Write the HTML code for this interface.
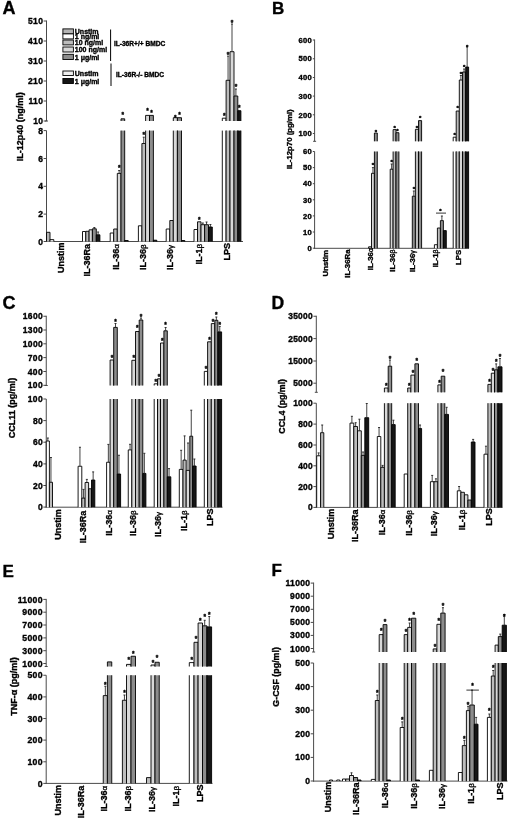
<!DOCTYPE html>
<html><head><meta charset="utf-8"><style>
html,body{margin:0;padding:0;background:#fff;}
svg{display:block;will-change:transform;}
text{font-family:"Liberation Sans",sans-serif;fill:#000;stroke:#000;stroke-width:0.35px;}
</style></head><body>
<svg width="520" height="820" viewBox="0 0 520 820">
<rect x="0" y="0" width="520" height="820" fill="#fff"/>
<text x="2.5" y="14.3" font-size="18" text-anchor="start" font-weight="bold">A</text>
<text x="22.8" y="126.8" font-size="9" text-anchor="middle" font-weight="bold" transform="rotate(-90 22.8 126.8)">IL-12p40 (ng/ml)</text>
<line x1="46.5" y1="20.5" x2="46.5" y2="121" stroke="#4a4a4a" stroke-width="1"/>
<line x1="43.6" y1="21" x2="46.5" y2="21" stroke="#4a4a4a" stroke-width="1"/>
<text x="43.2" y="24.06" font-size="8.5" text-anchor="end" font-weight="bold" letter-spacing="0.3">510</text>
<line x1="43.6" y1="41" x2="46.5" y2="41" stroke="#4a4a4a" stroke-width="1"/>
<text x="43.2" y="44.06" font-size="8.5" text-anchor="end" font-weight="bold" letter-spacing="0.3">410</text>
<line x1="43.6" y1="61" x2="46.5" y2="61" stroke="#4a4a4a" stroke-width="1"/>
<text x="43.2" y="64.06" font-size="8.5" text-anchor="end" font-weight="bold" letter-spacing="0.3">310</text>
<line x1="43.6" y1="81" x2="46.5" y2="81" stroke="#4a4a4a" stroke-width="1"/>
<text x="43.2" y="84.06" font-size="8.5" text-anchor="end" font-weight="bold" letter-spacing="0.3">210</text>
<line x1="43.6" y1="101" x2="46.5" y2="101" stroke="#4a4a4a" stroke-width="1"/>
<text x="43.2" y="104.06" font-size="8.5" text-anchor="end" font-weight="bold" letter-spacing="0.3">110</text>
<line x1="43.6" y1="121" x2="46.5" y2="121" stroke="#4a4a4a" stroke-width="1"/>
<text x="43.2" y="124.06" font-size="8.5" text-anchor="end" font-weight="bold" letter-spacing="0.3">10</text>
<line x1="45" y1="121" x2="48" y2="121" stroke="#4a4a4a" stroke-width="1"/>
<line x1="46.5" y1="130.6" x2="46.5" y2="242" stroke="#4a4a4a" stroke-width="1"/>
<line x1="43.6" y1="130.6" x2="46.5" y2="130.6" stroke="#4a4a4a" stroke-width="1"/>
<text x="43.2" y="133.66" font-size="8.5" text-anchor="end" font-weight="bold" letter-spacing="0.3">8</text>
<line x1="43.6" y1="158.5" x2="46.5" y2="158.5" stroke="#4a4a4a" stroke-width="1"/>
<text x="43.2" y="161.56" font-size="8.5" text-anchor="end" font-weight="bold" letter-spacing="0.3">6</text>
<line x1="43.6" y1="186.3" x2="46.5" y2="186.3" stroke="#4a4a4a" stroke-width="1"/>
<text x="43.2" y="189.36" font-size="8.5" text-anchor="end" font-weight="bold" letter-spacing="0.3">4</text>
<line x1="43.6" y1="214.1" x2="46.5" y2="214.1" stroke="#4a4a4a" stroke-width="1"/>
<text x="43.2" y="217.16" font-size="8.5" text-anchor="end" font-weight="bold" letter-spacing="0.3">2</text>
<line x1="43.6" y1="241.5" x2="46.5" y2="241.5" stroke="#4a4a4a" stroke-width="1"/>
<text x="43.2" y="244.56" font-size="8.5" text-anchor="end" font-weight="bold" letter-spacing="0.3">0</text>
<line x1="46" y1="241.5" x2="243" y2="241.5" stroke="#4a4a4a" stroke-width="1"/>
<rect x="46.5" y="232.3" width="3.5" height="9.2" fill="#b4b4b4"/>
<path d="M46.5 241.5V232.3H50V241.5" fill="none" stroke="#000" stroke-width="0.9"/>
<rect x="50" y="239.6" width="3.8" height="1.9" fill="#efefef"/>
<path d="M50 241.5V239.6H53.8V241.5" fill="none" stroke="#000" stroke-width="0.9"/>
<rect x="82.5" y="231.5" width="3.3" height="10" fill="#ffffff"/>
<path d="M82.5 241.5V231.5H85.8V241.5" fill="none" stroke="#000" stroke-width="0.9"/>
<rect x="85.8" y="231.3" width="3.3" height="10.2" fill="#bcbcbc"/>
<path d="M85.8 241.5V231.3H89.1V241.5" fill="none" stroke="#000" stroke-width="0.9"/>
<rect x="89.1" y="229.8" width="3.3" height="11.7" fill="#d8d8d8"/>
<path d="M89.1 241.5V229.8H92.4V241.5" fill="none" stroke="#000" stroke-width="0.9"/>
<rect x="92.4" y="228.8" width="3.9" height="12.7" fill="#8c8c8c"/>
<path d="M92.4 241.5V228.8H96.3V241.5" fill="none" stroke="#000" stroke-width="0.9"/>
<line x1="94.35" y1="227.5" x2="94.35" y2="228.8" stroke="#222" stroke-width="0.85"/>
<line x1="93.35" y1="227.5" x2="95.35" y2="227.5" stroke="#222" stroke-width="0.9"/>
<rect x="96.3" y="234.8" width="3.6" height="6.7" fill="#161616"/>
<path d="M96.3 241.5V234.8H99.9V241.5" fill="none" stroke="#000" stroke-width="0.9"/>
<line x1="98.1" y1="232" x2="98.1" y2="234.8" stroke="#222" stroke-width="0.85"/>
<line x1="97.1" y1="232" x2="99.1" y2="232" stroke="#222" stroke-width="0.9"/>
<rect x="110.2" y="233" width="3.5" height="8.5" fill="#ffffff"/>
<path d="M110.2 241.5V233H113.7V241.5" fill="none" stroke="#000" stroke-width="0.9"/>
<rect x="113.7" y="229" width="3.6" height="12.5" fill="#bcbcbc"/>
<path d="M113.7 241.5V229H117.3V241.5" fill="none" stroke="#000" stroke-width="0.9"/>
<rect x="117.3" y="173.4" width="3.7" height="68.1" fill="#d8d8d8"/>
<path d="M117.3 241.5V173.4H121V241.5" fill="none" stroke="#000" stroke-width="0.9"/>
<line x1="119.15" y1="170.5" x2="119.15" y2="173.4" stroke="#222" stroke-width="0.85"/>
<line x1="118.15" y1="170.5" x2="120.15" y2="170.5" stroke="#222" stroke-width="0.9"/>
<text x="119.15" y="170.07" font-size="6.5" text-anchor="middle" font-weight="bold">*</text>
<rect x="121" y="130.6" width="3.7" height="110.9" fill="#8c8c8c"/>
<path d="M121 241.5V130.6M124.7 130.6V241.5" fill="none" stroke="#000" stroke-width="0.9"/>
<rect x="121" y="118.8" width="3.7" height="2.2" fill="#8c8c8c"/>
<path d="M121 121V118.8H124.7V121" fill="none" stroke="#000" stroke-width="0.9"/>
<text x="122.85" y="116.58" font-size="6.5" text-anchor="middle" font-weight="bold">*</text>
<rect x="124.7" y="240.5" width="3.5" height="1" fill="#161616"/>
<path d="M124.7 241.5V240.5H128.2V241.5" fill="none" stroke="#000" stroke-width="0.9"/>
<rect x="138.4" y="225.8" width="3.5" height="15.7" fill="#ffffff"/>
<path d="M138.4 241.5V225.8H141.9V241.5" fill="none" stroke="#000" stroke-width="0.9"/>
<rect x="141.9" y="143.5" width="3.7" height="98" fill="#bcbcbc"/>
<path d="M141.9 241.5V143.5H145.6V241.5" fill="none" stroke="#000" stroke-width="0.9"/>
<line x1="143.75" y1="137.2" x2="143.75" y2="143.5" stroke="#222" stroke-width="0.85"/>
<line x1="142.75" y1="137.2" x2="144.75" y2="137.2" stroke="#222" stroke-width="0.9"/>
<text x="143.75" y="137.07" font-size="6.5" text-anchor="middle" font-weight="bold">*</text>
<rect x="145.6" y="130.6" width="3.9" height="110.9" fill="#d8d8d8"/>
<path d="M145.6 241.5V130.6M149.5 130.6V241.5" fill="none" stroke="#000" stroke-width="0.9"/>
<rect x="145.6" y="115.4" width="3.9" height="5.6" fill="#d8d8d8"/>
<path d="M145.6 121V115.4H149.5V121" fill="none" stroke="#000" stroke-width="0.9"/>
<text x="147.55" y="113.08" font-size="6.5" text-anchor="middle" font-weight="bold">*</text>
<rect x="149.5" y="130.6" width="3.9" height="110.9" fill="#8c8c8c"/>
<path d="M149.5 241.5V130.6M153.4 130.6V241.5" fill="none" stroke="#000" stroke-width="0.9"/>
<rect x="149.5" y="115.4" width="3.9" height="5.6" fill="#8c8c8c"/>
<path d="M149.5 121V115.4H153.4V121" fill="none" stroke="#000" stroke-width="0.9"/>
<text x="151.45" y="114.58" font-size="6.5" text-anchor="middle" font-weight="bold">*</text>
<rect x="153.4" y="240.2" width="3.4" height="1.3" fill="#161616"/>
<path d="M153.4 241.5V240.2H156.8V241.5" fill="none" stroke="#000" stroke-width="0.9"/>
<rect x="166.2" y="229" width="3.6" height="12.5" fill="#ffffff"/>
<path d="M166.2 241.5V229H169.8V241.5" fill="none" stroke="#000" stroke-width="0.9"/>
<rect x="169.8" y="220.5" width="3.5" height="21" fill="#bcbcbc"/>
<path d="M169.8 241.5V220.5H173.3V241.5" fill="none" stroke="#000" stroke-width="0.9"/>
<rect x="173.3" y="130.6" width="4.1" height="110.9" fill="#d8d8d8"/>
<path d="M173.3 241.5V130.6M177.4 130.6V241.5" fill="none" stroke="#000" stroke-width="0.9"/>
<rect x="173.3" y="117.7" width="4.1" height="3.3" fill="#d8d8d8"/>
<path d="M173.3 121V117.7H177.4V121" fill="none" stroke="#000" stroke-width="0.9"/>
<text x="175.35" y="119.58" font-size="6.5" text-anchor="middle" font-weight="bold">*</text>
<rect x="177.4" y="130.6" width="4.1" height="110.9" fill="#8c8c8c"/>
<path d="M177.4 241.5V130.6M181.5 130.6V241.5" fill="none" stroke="#000" stroke-width="0.9"/>
<rect x="177.4" y="117.7" width="4.1" height="3.3" fill="#8c8c8c"/>
<path d="M177.4 121V117.7H181.5V121" fill="none" stroke="#000" stroke-width="0.9"/>
<text x="179.45" y="116.58" font-size="6.5" text-anchor="middle" font-weight="bold">*</text>
<rect x="181.5" y="240.5" width="3.3" height="1" fill="#161616"/>
<path d="M181.5 241.5V240.5H184.8V241.5" fill="none" stroke="#000" stroke-width="0.9"/>
<rect x="194" y="229.5" width="3.5" height="12" fill="#ffffff"/>
<path d="M194 241.5V229.5H197.5V241.5" fill="none" stroke="#000" stroke-width="0.9"/>
<rect x="197.5" y="221.8" width="3.5" height="19.7" fill="#bcbcbc"/>
<path d="M197.5 241.5V221.8H201V241.5" fill="none" stroke="#000" stroke-width="0.9"/>
<text x="199.25" y="221.57" font-size="6.5" text-anchor="middle" font-weight="bold">*</text>
<rect x="201" y="224.7" width="3.6" height="16.8" fill="#d8d8d8"/>
<path d="M201 241.5V224.7H204.6V241.5" fill="none" stroke="#000" stroke-width="0.9"/>
<line x1="202.8" y1="223" x2="202.8" y2="224.7" stroke="#222" stroke-width="0.85"/>
<line x1="201.8" y1="223" x2="203.8" y2="223" stroke="#222" stroke-width="0.9"/>
<rect x="204.6" y="224.7" width="3.9" height="16.8" fill="#8c8c8c"/>
<path d="M204.6 241.5V224.7H208.5V241.5" fill="none" stroke="#000" stroke-width="0.9"/>
<line x1="206.55" y1="222" x2="206.55" y2="224.7" stroke="#222" stroke-width="0.85"/>
<line x1="205.55" y1="222" x2="207.55" y2="222" stroke="#222" stroke-width="0.9"/>
<rect x="208.5" y="227" width="3.8" height="14.5" fill="#161616"/>
<path d="M208.5 241.5V227H212.3V241.5" fill="none" stroke="#000" stroke-width="0.9"/>
<line x1="210.4" y1="224.5" x2="210.4" y2="227" stroke="#222" stroke-width="0.85"/>
<line x1="209.4" y1="224.5" x2="211.4" y2="224.5" stroke="#222" stroke-width="0.9"/>
<rect x="222.3" y="130.6" width="3.8" height="110.9" fill="#ffffff"/>
<path d="M222.3 241.5V130.6M226.1 130.6V241.5" fill="none" stroke="#000" stroke-width="0.9"/>
<rect x="222.3" y="118.2" width="3.8" height="2.8" fill="#ffffff"/>
<path d="M222.3 121V118.2H226.1V121" fill="none" stroke="#000" stroke-width="0.9"/>
<text x="224.2" y="118.28" font-size="6.5" text-anchor="middle" font-weight="bold">*</text>
<rect x="226.1" y="130.6" width="3.9" height="110.9" fill="#bcbcbc"/>
<path d="M226.1 241.5V130.6M230 130.6V241.5" fill="none" stroke="#000" stroke-width="0.9"/>
<rect x="226.1" y="80.3" width="3.9" height="40.7" fill="#bcbcbc"/>
<path d="M226.1 121V80.3H230V121" fill="none" stroke="#000" stroke-width="0.9"/>
<line x1="228.05" y1="56.1" x2="228.05" y2="80.3" stroke="#222" stroke-width="0.85"/>
<line x1="227.05" y1="56.1" x2="229.05" y2="56.1" stroke="#222" stroke-width="0.9"/>
<text x="228.05" y="57.18" font-size="6.5" text-anchor="middle" font-weight="bold">*</text>
<rect x="230" y="130.6" width="4" height="110.9" fill="#d8d8d8"/>
<path d="M230 241.5V130.6M234 130.6V241.5" fill="none" stroke="#000" stroke-width="0.9"/>
<rect x="230" y="51.7" width="4" height="69.3" fill="#d8d8d8"/>
<path d="M230 121V51.7H234V121" fill="none" stroke="#000" stroke-width="0.9"/>
<line x1="232" y1="24" x2="232" y2="51.7" stroke="#222" stroke-width="0.85"/>
<line x1="231" y1="24" x2="233" y2="24" stroke="#222" stroke-width="0.9"/>
<text x="232" y="24.57" font-size="6.5" text-anchor="middle" font-weight="bold">*</text>
<rect x="234" y="130.6" width="3.8" height="110.9" fill="#8c8c8c"/>
<path d="M234 241.5V130.6M237.8 130.6V241.5" fill="none" stroke="#000" stroke-width="0.9"/>
<rect x="234" y="96" width="3.8" height="25" fill="#8c8c8c"/>
<path d="M234 121V96H237.8V121" fill="none" stroke="#000" stroke-width="0.9"/>
<line x1="235.9" y1="89" x2="235.9" y2="96" stroke="#222" stroke-width="0.85"/>
<line x1="234.9" y1="89" x2="236.9" y2="89" stroke="#222" stroke-width="0.9"/>
<text x="235.9" y="89.38" font-size="6.5" text-anchor="middle" font-weight="bold">*</text>
<rect x="237.8" y="130.6" width="3.1" height="110.9" fill="#161616"/>
<path d="M237.8 241.5V130.6M240.9 130.6V241.5" fill="none" stroke="#000" stroke-width="0.9"/>
<rect x="237.8" y="110.7" width="3.1" height="10.3" fill="#161616"/>
<path d="M237.8 121V110.7H240.9V121" fill="none" stroke="#000" stroke-width="0.9"/>
<text x="239.35" y="110.17" font-size="6.5" text-anchor="middle" font-weight="bold">*</text>
<text x="63.8" y="242.6" font-size="9" text-anchor="end" font-weight="bold" transform="rotate(-90 63.8 242.6)">Unstim</text>
<text x="89.8" y="244" font-size="9" text-anchor="end" font-weight="bold" transform="rotate(-90 89.8 244)">IL-36Ra</text>
<text x="119.4" y="244.1" font-size="9" text-anchor="end" font-weight="bold" transform="rotate(-90 119.4 244.1)">IL-36<tspan font-weight="normal" font-size="8.1">α</tspan></text>
<text x="145.9" y="244.4" font-size="9" text-anchor="end" font-weight="bold" transform="rotate(-90 145.9 244.4)">IL-36<tspan font-weight="normal" font-size="8.1">β</tspan></text>
<text x="172.8" y="245" font-size="9" text-anchor="end" font-weight="bold" transform="rotate(-90 172.8 245)">IL-36<tspan font-weight="normal" font-size="8.1">γ</tspan></text>
<text x="202.5" y="243.8" font-size="9" text-anchor="end" font-weight="bold" transform="rotate(-90 202.5 243.8)">IL-1<tspan font-weight="normal" font-size="8.1">β</tspan></text>
<text x="230.3" y="243" font-size="9" text-anchor="end" font-weight="bold" transform="rotate(-90 230.3 243)">LPS</text>
<text x="272" y="14" font-size="17" text-anchor="start" font-weight="bold">B</text>
<text x="292.1" y="139.2" font-size="7.8" text-anchor="middle" font-weight="bold" transform="rotate(-90 292.1 139.2)">IL-12p70 (pg/ml)</text>
<line x1="314.6" y1="39.5" x2="314.6" y2="141.3" stroke="#4a4a4a" stroke-width="1"/>
<line x1="312.8" y1="40" x2="314.6" y2="40" stroke="#4a4a4a" stroke-width="1"/>
<text x="312" y="42.74" font-size="7.6" text-anchor="end" font-weight="bold" letter-spacing="0.3">600</text>
<line x1="312.8" y1="58.75" x2="314.6" y2="58.75" stroke="#4a4a4a" stroke-width="1"/>
<text x="312" y="61.49" font-size="7.6" text-anchor="end" font-weight="bold" letter-spacing="0.3">500</text>
<line x1="312.8" y1="77.5" x2="314.6" y2="77.5" stroke="#4a4a4a" stroke-width="1"/>
<text x="312" y="80.24" font-size="7.6" text-anchor="end" font-weight="bold" letter-spacing="0.3">400</text>
<line x1="312.8" y1="96.1" x2="314.6" y2="96.1" stroke="#4a4a4a" stroke-width="1"/>
<text x="312" y="98.84" font-size="7.6" text-anchor="end" font-weight="bold" letter-spacing="0.3">300</text>
<line x1="312.8" y1="114.8" x2="314.6" y2="114.8" stroke="#4a4a4a" stroke-width="1"/>
<text x="312" y="117.54" font-size="7.6" text-anchor="end" font-weight="bold" letter-spacing="0.3">200</text>
<line x1="312.8" y1="133.5" x2="314.6" y2="133.5" stroke="#4a4a4a" stroke-width="1"/>
<text x="312" y="136.24" font-size="7.6" text-anchor="end" font-weight="bold" letter-spacing="0.3">100</text>
<line x1="313.1" y1="141.3" x2="316.1" y2="141.3" stroke="#4a4a4a" stroke-width="1"/>
<line x1="314.6" y1="151.5" x2="314.6" y2="248.8" stroke="#4a4a4a" stroke-width="1"/>
<line x1="312.8" y1="151.5" x2="314.6" y2="151.5" stroke="#4a4a4a" stroke-width="1"/>
<text x="312" y="154.24" font-size="7.6" text-anchor="end" font-weight="bold" letter-spacing="0.3">60</text>
<line x1="312.8" y1="167.6" x2="314.6" y2="167.6" stroke="#4a4a4a" stroke-width="1"/>
<text x="312" y="170.34" font-size="7.6" text-anchor="end" font-weight="bold" letter-spacing="0.3">50</text>
<line x1="312.8" y1="183.7" x2="314.6" y2="183.7" stroke="#4a4a4a" stroke-width="1"/>
<text x="312" y="186.44" font-size="7.6" text-anchor="end" font-weight="bold" letter-spacing="0.3">40</text>
<line x1="312.8" y1="199.8" x2="314.6" y2="199.8" stroke="#4a4a4a" stroke-width="1"/>
<text x="312" y="202.54" font-size="7.6" text-anchor="end" font-weight="bold" letter-spacing="0.3">30</text>
<line x1="312.8" y1="215.9" x2="314.6" y2="215.9" stroke="#4a4a4a" stroke-width="1"/>
<text x="312" y="218.64" font-size="7.6" text-anchor="end" font-weight="bold" letter-spacing="0.3">20</text>
<line x1="312.8" y1="232" x2="314.6" y2="232" stroke="#4a4a4a" stroke-width="1"/>
<text x="312" y="234.74" font-size="7.6" text-anchor="end" font-weight="bold" letter-spacing="0.3">10</text>
<line x1="312.8" y1="248.2" x2="314.6" y2="248.2" stroke="#4a4a4a" stroke-width="1"/>
<text x="312" y="250.94" font-size="7.6" text-anchor="end" font-weight="bold" letter-spacing="0.3">0</text>
<line x1="314.1" y1="248.3" x2="469" y2="248.3" stroke="#4a4a4a" stroke-width="1"/>
<rect x="368.6" y="246.8" width="2.9" height="1.5" fill="#bcbcbc"/>
<path d="M368.6 248.3V246.8H371.5V248.3" fill="none" stroke="#000" stroke-width="0.9"/>
<rect x="371.5" y="173.3" width="2.9" height="75" fill="#d8d8d8"/>
<path d="M371.5 248.3V173.3H374.4V248.3" fill="none" stroke="#000" stroke-width="0.9"/>
<line x1="372.95" y1="167.6" x2="372.95" y2="173.3" stroke="#222" stroke-width="0.85"/>
<line x1="371.95" y1="167.6" x2="373.95" y2="167.6" stroke="#222" stroke-width="0.9"/>
<text x="372.95" y="167.3" font-size="6" text-anchor="middle" font-weight="bold">*</text>
<rect x="374.4" y="151.5" width="2.9" height="96.8" fill="#8c8c8c"/>
<path d="M374.4 248.3V151.5M377.3 151.5V248.3" fill="none" stroke="#000" stroke-width="0.9"/>
<rect x="374.4" y="133" width="2.9" height="8.3" fill="#8c8c8c"/>
<path d="M374.4 141.3V133H377.3V141.3" fill="none" stroke="#000" stroke-width="0.9"/>
<text x="375.85" y="133.8" font-size="6" text-anchor="middle" font-weight="bold">*</text>
<rect x="390.2" y="169.2" width="2.9" height="79.1" fill="#d8d8d8"/>
<path d="M390.2 248.3V169.2H393.1V248.3" fill="none" stroke="#000" stroke-width="0.9"/>
<line x1="391.65" y1="164" x2="391.65" y2="169.2" stroke="#222" stroke-width="0.85"/>
<line x1="390.65" y1="164" x2="392.65" y2="164" stroke="#222" stroke-width="0.9"/>
<text x="391.65" y="163.8" font-size="6" text-anchor="middle" font-weight="bold">*</text>
<rect x="393.1" y="151.5" width="2.9" height="96.8" fill="#bcbcbc"/>
<path d="M393.1 248.3V151.5M396 151.5V248.3" fill="none" stroke="#000" stroke-width="0.9"/>
<rect x="393.1" y="129.6" width="2.9" height="11.7" fill="#bcbcbc"/>
<path d="M393.1 141.3V129.6H396V141.3" fill="none" stroke="#000" stroke-width="0.9"/>
<text x="394.55" y="129.8" font-size="6" text-anchor="middle" font-weight="bold">*</text>
<rect x="396" y="151.5" width="2.9" height="96.8" fill="#8c8c8c"/>
<path d="M396 248.3V151.5M398.9 151.5V248.3" fill="none" stroke="#000" stroke-width="0.9"/>
<rect x="396" y="132.7" width="2.9" height="8.6" fill="#8c8c8c"/>
<path d="M396 141.3V132.7H398.9V141.3" fill="none" stroke="#000" stroke-width="0.9"/>
<text x="397.45" y="133.3" font-size="6" text-anchor="middle" font-weight="bold">*</text>
<rect x="412.3" y="196.2" width="3.1" height="52.1" fill="#8c8c8c"/>
<path d="M412.3 248.3V196.2H415.4V248.3" fill="none" stroke="#000" stroke-width="0.9"/>
<line x1="413.85" y1="191" x2="413.85" y2="196.2" stroke="#222" stroke-width="0.85"/>
<line x1="412.85" y1="191" x2="414.85" y2="191" stroke="#222" stroke-width="0.9"/>
<text x="413.85" y="191.3" font-size="6" text-anchor="middle" font-weight="bold">*</text>
<rect x="415.4" y="151.5" width="3.1" height="96.8" fill="#bcbcbc"/>
<path d="M415.4 248.3V151.5M418.5 151.5V248.3" fill="none" stroke="#000" stroke-width="0.9"/>
<rect x="415.4" y="129.3" width="3.1" height="12" fill="#bcbcbc"/>
<path d="M415.4 141.3V129.3H418.5V141.3" fill="none" stroke="#000" stroke-width="0.9"/>
<text x="416.95" y="129.8" font-size="6" text-anchor="middle" font-weight="bold">*</text>
<rect x="418.5" y="151.5" width="3.1" height="96.8" fill="#8c8c8c"/>
<path d="M418.5 248.3V151.5M421.6 151.5V248.3" fill="none" stroke="#000" stroke-width="0.9"/>
<rect x="418.5" y="120.6" width="3.1" height="20.7" fill="#8c8c8c"/>
<path d="M418.5 141.3V120.6H421.6V141.3" fill="none" stroke="#000" stroke-width="0.9"/>
<text x="420.05" y="119.9" font-size="6" text-anchor="middle" font-weight="bold">*</text>
<rect x="434.4" y="244.7" width="3" height="3.6" fill="#ffffff"/>
<path d="M434.4 248.3V244.7H437.4V248.3" fill="none" stroke="#000" stroke-width="0.9"/>
<rect x="437.4" y="228" width="3" height="20.3" fill="#bcbcbc"/>
<path d="M437.4 248.3V228H440.4V248.3" fill="none" stroke="#000" stroke-width="0.9"/>
<rect x="440.4" y="220.6" width="3" height="27.7" fill="#8c8c8c"/>
<path d="M440.4 248.3V220.6H443.4V248.3" fill="none" stroke="#000" stroke-width="0.9"/>
<line x1="441.9" y1="216" x2="441.9" y2="220.6" stroke="#222" stroke-width="0.85"/>
<line x1="440.9" y1="216" x2="442.9" y2="216" stroke="#222" stroke-width="0.9"/>
<rect x="443.4" y="230.6" width="2.9" height="17.7" fill="#161616"/>
<path d="M443.4 248.3V230.6H446.3V248.3" fill="none" stroke="#000" stroke-width="0.9"/>
<rect x="453.2" y="151.5" width="3" height="96.8" fill="#ffffff"/>
<path d="M453.2 248.3V151.5M456.2 151.5V248.3" fill="none" stroke="#000" stroke-width="0.9"/>
<rect x="453.2" y="137.2" width="3" height="4.1" fill="#ffffff"/>
<path d="M453.2 141.3V137.2H456.2V141.3" fill="none" stroke="#000" stroke-width="0.9"/>
<text x="454.7" y="137.3" font-size="6" text-anchor="middle" font-weight="bold">*</text>
<rect x="456.2" y="151.5" width="3.1" height="96.8" fill="#bcbcbc"/>
<path d="M456.2 248.3V151.5M459.3 151.5V248.3" fill="none" stroke="#000" stroke-width="0.9"/>
<rect x="456.2" y="111" width="3.1" height="30.3" fill="#bcbcbc"/>
<path d="M456.2 141.3V111H459.3V141.3" fill="none" stroke="#000" stroke-width="0.9"/>
<text x="457.75" y="109.8" font-size="6" text-anchor="middle" font-weight="bold">*</text>
<rect x="459.3" y="151.5" width="3.2" height="96.8" fill="#d8d8d8"/>
<path d="M459.3 248.3V151.5M462.5 151.5V248.3" fill="none" stroke="#000" stroke-width="0.9"/>
<rect x="459.3" y="80" width="3.2" height="61.3" fill="#d8d8d8"/>
<path d="M459.3 141.3V80H462.5V141.3" fill="none" stroke="#000" stroke-width="0.9"/>
<line x1="460.9" y1="75.5" x2="460.9" y2="80" stroke="#222" stroke-width="0.85"/>
<line x1="459.9" y1="75.5" x2="461.9" y2="75.5" stroke="#222" stroke-width="0.9"/>
<text x="460.9" y="75.8" font-size="6" text-anchor="middle" font-weight="bold">*</text>
<rect x="462.5" y="151.5" width="3.2" height="96.8" fill="#8c8c8c"/>
<path d="M462.5 248.3V151.5M465.7 151.5V248.3" fill="none" stroke="#000" stroke-width="0.9"/>
<rect x="462.5" y="72" width="3.2" height="69.3" fill="#8c8c8c"/>
<path d="M462.5 141.3V72H465.7V141.3" fill="none" stroke="#000" stroke-width="0.9"/>
<line x1="464.1" y1="69" x2="464.1" y2="72" stroke="#222" stroke-width="0.85"/>
<line x1="463.1" y1="69" x2="465.1" y2="69" stroke="#222" stroke-width="0.9"/>
<text x="464.1" y="69.3" font-size="6" text-anchor="middle" font-weight="bold">*</text>
<rect x="465.7" y="151.5" width="2.9" height="96.8" fill="#161616"/>
<path d="M465.7 248.3V151.5M468.6 151.5V248.3" fill="none" stroke="#000" stroke-width="0.9"/>
<rect x="465.7" y="67" width="2.9" height="74.3" fill="#161616"/>
<path d="M465.7 141.3V67H468.6V141.3" fill="none" stroke="#000" stroke-width="0.9"/>
<line x1="467.15" y1="47" x2="467.15" y2="67" stroke="#222" stroke-width="0.85"/>
<line x1="466.15" y1="47" x2="468.15" y2="47" stroke="#222" stroke-width="0.9"/>
<text x="467.15" y="48.8" font-size="6" text-anchor="middle" font-weight="bold">*</text>
<line x1="436" y1="213.1" x2="446" y2="213.1" stroke="#000" stroke-width="0.8"/>
<text x="440.5" y="212.7" font-size="6" text-anchor="middle" font-weight="bold">*</text>
<text x="328" y="250" font-size="7.8" text-anchor="end" font-weight="bold" transform="rotate(-90 328 250)">Unstim</text>
<text x="350.4" y="249.5" font-size="7.8" text-anchor="end" font-weight="bold" transform="rotate(-90 350.4 249.5)">IL-36Ra</text>
<text x="372.5" y="248" font-size="7.8" text-anchor="end" font-weight="bold" transform="rotate(-90 372.5 248)">IL-36<tspan font-weight="normal" font-size="7.02">α</tspan></text>
<text x="395.1" y="249.4" font-size="7.8" text-anchor="end" font-weight="bold" transform="rotate(-90 395.1 249.4)">IL-36<tspan font-weight="normal" font-size="7.02">β</tspan></text>
<text x="414.9" y="250.2" font-size="7.8" text-anchor="end" font-weight="bold" transform="rotate(-90 414.9 250.2)">IL-36<tspan font-weight="normal" font-size="7.02">γ</tspan></text>
<text x="438.5" y="249.4" font-size="7.8" text-anchor="end" font-weight="bold" transform="rotate(-90 438.5 249.4)">IL-1<tspan font-weight="normal" font-size="7.02">β</tspan></text>
<text x="460.8" y="249.8" font-size="7.8" text-anchor="end" font-weight="bold" transform="rotate(-90 460.8 249.8)">LPS</text>
<text x="2.5" y="309.3" font-size="18" text-anchor="start" font-weight="bold">C</text>
<text x="14.8" y="408" font-size="9" text-anchor="middle" font-weight="bold" transform="rotate(-90 14.8 408)">CCL11 (pg/ml)</text>
<line x1="46.25" y1="315.75" x2="46.25" y2="385.5" stroke="#4a4a4a" stroke-width="1"/>
<line x1="43.35" y1="316.25" x2="46.25" y2="316.25" stroke="#4a4a4a" stroke-width="1"/>
<text x="42.95" y="319.31" font-size="8.5" text-anchor="end" font-weight="bold" letter-spacing="0.3">1600</text>
<line x1="43.35" y1="330" x2="46.25" y2="330" stroke="#4a4a4a" stroke-width="1"/>
<text x="42.95" y="333.06" font-size="8.5" text-anchor="end" font-weight="bold" letter-spacing="0.3">1300</text>
<line x1="43.35" y1="343.8" x2="46.25" y2="343.8" stroke="#4a4a4a" stroke-width="1"/>
<text x="42.95" y="346.86" font-size="8.5" text-anchor="end" font-weight="bold" letter-spacing="0.3">1000</text>
<line x1="43.35" y1="357.6" x2="46.25" y2="357.6" stroke="#4a4a4a" stroke-width="1"/>
<text x="42.95" y="360.66" font-size="8.5" text-anchor="end" font-weight="bold" letter-spacing="0.3">700</text>
<line x1="43.35" y1="371.5" x2="46.25" y2="371.5" stroke="#4a4a4a" stroke-width="1"/>
<text x="42.95" y="374.56" font-size="8.5" text-anchor="end" font-weight="bold" letter-spacing="0.3">400</text>
<line x1="43.35" y1="385.3" x2="46.25" y2="385.3" stroke="#4a4a4a" stroke-width="1"/>
<text x="42.95" y="388.36" font-size="8.5" text-anchor="end" font-weight="bold" letter-spacing="0.3">100</text>
<line x1="44.75" y1="385.5" x2="47.75" y2="385.5" stroke="#4a4a4a" stroke-width="1"/>
<line x1="46.25" y1="399" x2="46.25" y2="507.7" stroke="#4a4a4a" stroke-width="1"/>
<line x1="43.35" y1="399" x2="46.25" y2="399" stroke="#4a4a4a" stroke-width="1"/>
<text x="42.95" y="402.06" font-size="8.5" text-anchor="end" font-weight="bold" letter-spacing="0.3">100</text>
<line x1="43.35" y1="420.6" x2="46.25" y2="420.6" stroke="#4a4a4a" stroke-width="1"/>
<text x="42.95" y="423.66" font-size="8.5" text-anchor="end" font-weight="bold" letter-spacing="0.3">80</text>
<line x1="43.35" y1="442.2" x2="46.25" y2="442.2" stroke="#4a4a4a" stroke-width="1"/>
<text x="42.95" y="445.26" font-size="8.5" text-anchor="end" font-weight="bold" letter-spacing="0.3">60</text>
<line x1="43.35" y1="463.9" x2="46.25" y2="463.9" stroke="#4a4a4a" stroke-width="1"/>
<text x="42.95" y="466.96" font-size="8.5" text-anchor="end" font-weight="bold" letter-spacing="0.3">40</text>
<line x1="43.35" y1="485.5" x2="46.25" y2="485.5" stroke="#4a4a4a" stroke-width="1"/>
<text x="42.95" y="488.56" font-size="8.5" text-anchor="end" font-weight="bold" letter-spacing="0.3">20</text>
<line x1="43.35" y1="507.1" x2="46.25" y2="507.1" stroke="#4a4a4a" stroke-width="1"/>
<text x="42.95" y="510.16" font-size="8.5" text-anchor="end" font-weight="bold" letter-spacing="0.3">0</text>
<line x1="45.75" y1="507.2" x2="222.5" y2="507.2" stroke="#4a4a4a" stroke-width="1"/>
<rect x="46.25" y="441" width="3.15" height="66.2" fill="#ffffff"/>
<path d="M46.25 507.2V441H49.4V507.2" fill="none" stroke="#000" stroke-width="0.9"/>
<line x1="47.83" y1="438" x2="47.83" y2="441" stroke="#222" stroke-width="0.85"/>
<line x1="46.83" y1="438" x2="48.83" y2="438" stroke="#222" stroke-width="0.9"/>
<rect x="49.4" y="482.25" width="3.1" height="24.95" fill="#bcbcbc"/>
<path d="M49.4 507.2V482.25H52.5V507.2" fill="none" stroke="#000" stroke-width="0.9"/>
<line x1="50.95" y1="457.5" x2="50.95" y2="482.25" stroke="#222" stroke-width="0.85"/>
<line x1="49.95" y1="457.5" x2="51.95" y2="457.5" stroke="#222" stroke-width="0.9"/>
<rect x="78.1" y="466.25" width="3.7" height="40.95" fill="#ffffff"/>
<path d="M78.1 507.2V466.25H81.8V507.2" fill="none" stroke="#000" stroke-width="0.9"/>
<line x1="79.95" y1="447.25" x2="79.95" y2="466.25" stroke="#222" stroke-width="0.85"/>
<line x1="78.95" y1="447.25" x2="80.95" y2="447.25" stroke="#222" stroke-width="0.9"/>
<rect x="81.8" y="498.1" width="3.3" height="9.1" fill="#bcbcbc"/>
<path d="M81.8 507.2V498.1H85.1V507.2" fill="none" stroke="#000" stroke-width="0.9"/>
<line x1="83.45" y1="489.4" x2="83.45" y2="498.1" stroke="#222" stroke-width="0.85"/>
<line x1="82.45" y1="489.4" x2="84.45" y2="489.4" stroke="#222" stroke-width="0.9"/>
<rect x="85.1" y="482.5" width="3.5" height="24.7" fill="#d8d8d8"/>
<path d="M85.1 507.2V482.5H88.6V507.2" fill="none" stroke="#000" stroke-width="0.9"/>
<line x1="86.85" y1="479.4" x2="86.85" y2="482.5" stroke="#222" stroke-width="0.85"/>
<line x1="85.85" y1="479.4" x2="87.85" y2="479.4" stroke="#222" stroke-width="0.9"/>
<rect x="88.6" y="488.75" width="2.9" height="18.45" fill="#8c8c8c"/>
<path d="M88.6 507.2V488.75H91.5V507.2" fill="none" stroke="#000" stroke-width="0.9"/>
<rect x="91.5" y="480" width="3.3" height="27.2" fill="#161616"/>
<path d="M91.5 507.2V480H94.8V507.2" fill="none" stroke="#000" stroke-width="0.9"/>
<line x1="93.15" y1="471.9" x2="93.15" y2="480" stroke="#222" stroke-width="0.85"/>
<line x1="92.15" y1="471.9" x2="94.15" y2="471.9" stroke="#222" stroke-width="0.9"/>
<rect x="106.6" y="462.25" width="3.5" height="44.95" fill="#ffffff"/>
<path d="M106.6 507.2V462.25H110.1V507.2" fill="none" stroke="#000" stroke-width="0.9"/>
<line x1="108.35" y1="444.4" x2="108.35" y2="462.25" stroke="#222" stroke-width="0.85"/>
<line x1="107.35" y1="444.4" x2="109.35" y2="444.4" stroke="#222" stroke-width="0.9"/>
<rect x="110.1" y="399" width="3.6" height="108.2" fill="#d8d8d8"/>
<path d="M110.1 507.2V399M113.7 399V507.2" fill="none" stroke="#000" stroke-width="0.9"/>
<rect x="110.1" y="360" width="3.6" height="25.5" fill="#d8d8d8"/>
<path d="M110.1 385.5V360H113.7V385.5" fill="none" stroke="#000" stroke-width="0.9"/>
<text x="111.9" y="359.57" font-size="6.5" text-anchor="middle" font-weight="bold">*</text>
<rect x="113.7" y="399" width="3.6" height="108.2" fill="#8c8c8c"/>
<path d="M113.7 507.2V399M117.3 399V507.2" fill="none" stroke="#000" stroke-width="0.9"/>
<rect x="113.7" y="327.4" width="3.6" height="58.1" fill="#8c8c8c"/>
<path d="M113.7 385.5V327.4H117.3V385.5" fill="none" stroke="#000" stroke-width="0.9"/>
<line x1="115.5" y1="323.5" x2="115.5" y2="327.4" stroke="#222" stroke-width="0.85"/>
<line x1="114.5" y1="323.5" x2="116.5" y2="323.5" stroke="#222" stroke-width="0.9"/>
<text x="115.5" y="323.57" font-size="6.5" text-anchor="middle" font-weight="bold">*</text>
<rect x="117.3" y="474" width="3.3" height="33.2" fill="#161616"/>
<path d="M117.3 507.2V474H120.6V507.2" fill="none" stroke="#000" stroke-width="0.9"/>
<line x1="118.95" y1="455.25" x2="118.95" y2="474" stroke="#222" stroke-width="0.85"/>
<line x1="117.95" y1="455.25" x2="119.95" y2="455.25" stroke="#222" stroke-width="0.9"/>
<rect x="128.25" y="449.9" width="3.6" height="57.3" fill="#ffffff"/>
<path d="M128.25 507.2V449.9H131.85V507.2" fill="none" stroke="#000" stroke-width="0.9"/>
<line x1="130.05" y1="444.3" x2="130.05" y2="449.9" stroke="#222" stroke-width="0.85"/>
<line x1="129.05" y1="444.3" x2="131.05" y2="444.3" stroke="#222" stroke-width="0.9"/>
<rect x="131.85" y="399" width="3.65" height="108.2" fill="#d8d8d8"/>
<path d="M131.85 507.2V399M135.5 399V507.2" fill="none" stroke="#000" stroke-width="0.9"/>
<rect x="131.85" y="360.3" width="3.65" height="25.2" fill="#d8d8d8"/>
<path d="M131.85 385.5V360.3H135.5V385.5" fill="none" stroke="#000" stroke-width="0.9"/>
<text x="133.68" y="359.57" font-size="6.5" text-anchor="middle" font-weight="bold">*</text>
<rect x="135.5" y="399" width="3.7" height="108.2" fill="#bcbcbc"/>
<path d="M135.5 507.2V399M139.2 399V507.2" fill="none" stroke="#000" stroke-width="0.9"/>
<rect x="135.5" y="331.5" width="3.7" height="54" fill="#bcbcbc"/>
<path d="M135.5 385.5V331.5H139.2V385.5" fill="none" stroke="#000" stroke-width="0.9"/>
<text x="137.35" y="330.07" font-size="6.5" text-anchor="middle" font-weight="bold">*</text>
<rect x="139.2" y="399" width="3.6" height="108.2" fill="#8c8c8c"/>
<path d="M139.2 507.2V399M142.8 399V507.2" fill="none" stroke="#000" stroke-width="0.9"/>
<rect x="139.2" y="320" width="3.6" height="65.5" fill="#8c8c8c"/>
<path d="M139.2 385.5V320H142.8V385.5" fill="none" stroke="#000" stroke-width="0.9"/>
<line x1="141" y1="318" x2="141" y2="320" stroke="#222" stroke-width="0.85"/>
<line x1="140" y1="318" x2="142" y2="318" stroke="#222" stroke-width="0.9"/>
<text x="141" y="318.57" font-size="6.5" text-anchor="middle" font-weight="bold">*</text>
<rect x="142.8" y="473.4" width="3.1" height="33.8" fill="#161616"/>
<path d="M142.8 507.2V473.4H145.9V507.2" fill="none" stroke="#000" stroke-width="0.9"/>
<line x1="144.35" y1="453.3" x2="144.35" y2="473.4" stroke="#222" stroke-width="0.85"/>
<line x1="143.35" y1="453.3" x2="145.35" y2="453.3" stroke="#222" stroke-width="0.9"/>
<rect x="154.2" y="399" width="3.3" height="108.2" fill="#ffffff"/>
<path d="M154.2 507.2V399M157.5 399V507.2" fill="none" stroke="#000" stroke-width="0.9"/>
<rect x="154.2" y="383.8" width="3.3" height="1.7" fill="#ffffff"/>
<path d="M154.2 385.5V383.8H157.5V385.5" fill="none" stroke="#000" stroke-width="0.9"/>
<text x="155.85" y="383.57" font-size="6.5" text-anchor="middle" font-weight="bold">*</text>
<rect x="157.5" y="399" width="3" height="108.2" fill="#bcbcbc"/>
<path d="M157.5 507.2V399M160.5 399V507.2" fill="none" stroke="#000" stroke-width="0.9"/>
<rect x="157.5" y="378.8" width="3" height="6.7" fill="#bcbcbc"/>
<path d="M157.5 385.5V378.8H160.5V385.5" fill="none" stroke="#000" stroke-width="0.9"/>
<text x="159" y="378.57" font-size="6.5" text-anchor="middle" font-weight="bold">*</text>
<rect x="160.5" y="399" width="3.4" height="108.2" fill="#d8d8d8"/>
<path d="M160.5 507.2V399M163.9 399V507.2" fill="none" stroke="#000" stroke-width="0.9"/>
<rect x="160.5" y="343" width="3.4" height="42.5" fill="#d8d8d8"/>
<path d="M160.5 385.5V343H163.9V385.5" fill="none" stroke="#000" stroke-width="0.9"/>
<text x="162.2" y="342.57" font-size="6.5" text-anchor="middle" font-weight="bold">*</text>
<rect x="163.9" y="399" width="3.4" height="108.2" fill="#8c8c8c"/>
<path d="M163.9 507.2V399M167.3 399V507.2" fill="none" stroke="#000" stroke-width="0.9"/>
<rect x="163.9" y="330.8" width="3.4" height="54.7" fill="#8c8c8c"/>
<path d="M163.9 385.5V330.8H167.3V385.5" fill="none" stroke="#000" stroke-width="0.9"/>
<line x1="165.6" y1="327.5" x2="165.6" y2="330.8" stroke="#222" stroke-width="0.85"/>
<line x1="164.6" y1="327.5" x2="166.6" y2="327.5" stroke="#222" stroke-width="0.9"/>
<text x="165.6" y="327.07" font-size="6.5" text-anchor="middle" font-weight="bold">*</text>
<rect x="167.3" y="476.8" width="3.5" height="30.4" fill="#161616"/>
<path d="M167.3 507.2V476.8H170.8V507.2" fill="none" stroke="#000" stroke-width="0.9"/>
<line x1="169.05" y1="468.6" x2="169.05" y2="476.8" stroke="#222" stroke-width="0.85"/>
<line x1="168.05" y1="468.6" x2="170.05" y2="468.6" stroke="#222" stroke-width="0.9"/>
<rect x="179.3" y="469.4" width="3.7" height="37.8" fill="#ffffff"/>
<path d="M179.3 507.2V469.4H183V507.2" fill="none" stroke="#000" stroke-width="0.9"/>
<line x1="181.15" y1="450.3" x2="181.15" y2="469.4" stroke="#222" stroke-width="0.85"/>
<line x1="180.15" y1="450.3" x2="182.15" y2="450.3" stroke="#222" stroke-width="0.9"/>
<rect x="183" y="460.1" width="3.2" height="47.1" fill="#bcbcbc"/>
<path d="M183 507.2V460.1H186.2V507.2" fill="none" stroke="#000" stroke-width="0.9"/>
<line x1="184.6" y1="435.9" x2="184.6" y2="460.1" stroke="#222" stroke-width="0.85"/>
<line x1="183.6" y1="435.9" x2="185.6" y2="435.9" stroke="#222" stroke-width="0.9"/>
<rect x="186.2" y="470.4" width="3.6" height="36.8" fill="#d8d8d8"/>
<path d="M186.2 507.2V470.4H189.8V507.2" fill="none" stroke="#000" stroke-width="0.9"/>
<line x1="188" y1="443" x2="188" y2="470.4" stroke="#222" stroke-width="0.85"/>
<line x1="187" y1="443" x2="189" y2="443" stroke="#222" stroke-width="0.9"/>
<rect x="189.8" y="436.2" width="2.9" height="71" fill="#8c8c8c"/>
<path d="M189.8 507.2V436.2H192.7V507.2" fill="none" stroke="#000" stroke-width="0.9"/>
<line x1="191.25" y1="410.2" x2="191.25" y2="436.2" stroke="#222" stroke-width="0.85"/>
<line x1="190.25" y1="410.2" x2="192.25" y2="410.2" stroke="#222" stroke-width="0.9"/>
<rect x="192.7" y="466" width="3.4" height="41.2" fill="#161616"/>
<path d="M192.7 507.2V466H196.1V507.2" fill="none" stroke="#000" stroke-width="0.9"/>
<line x1="194.4" y1="459" x2="194.4" y2="466" stroke="#222" stroke-width="0.85"/>
<line x1="193.4" y1="459" x2="195.4" y2="459" stroke="#222" stroke-width="0.9"/>
<rect x="204.3" y="399" width="3.3" height="108.2" fill="#ffffff"/>
<path d="M204.3 507.2V399M207.6 399V507.2" fill="none" stroke="#000" stroke-width="0.9"/>
<rect x="204.3" y="371.4" width="3.3" height="14.1" fill="#ffffff"/>
<path d="M204.3 385.5V371.4H207.6V385.5" fill="none" stroke="#000" stroke-width="0.9"/>
<text x="205.95" y="371.07" font-size="6.5" text-anchor="middle" font-weight="bold">*</text>
<rect x="207.6" y="399" width="3.7" height="108.2" fill="#bcbcbc"/>
<path d="M207.6 507.2V399M211.3 399V507.2" fill="none" stroke="#000" stroke-width="0.9"/>
<rect x="207.6" y="341.8" width="3.7" height="43.7" fill="#bcbcbc"/>
<path d="M207.6 385.5V341.8H211.3V385.5" fill="none" stroke="#000" stroke-width="0.9"/>
<text x="209.45" y="341.57" font-size="6.5" text-anchor="middle" font-weight="bold">*</text>
<rect x="211.3" y="399" width="3.5" height="108.2" fill="#d8d8d8"/>
<path d="M211.3 507.2V399M214.8 399V507.2" fill="none" stroke="#000" stroke-width="0.9"/>
<rect x="211.3" y="323.6" width="3.5" height="61.9" fill="#d8d8d8"/>
<path d="M211.3 385.5V323.6H214.8V385.5" fill="none" stroke="#000" stroke-width="0.9"/>
<text x="213.05" y="323.57" font-size="6.5" text-anchor="middle" font-weight="bold">*</text>
<rect x="214.8" y="399" width="3.1" height="108.2" fill="#8c8c8c"/>
<path d="M214.8 507.2V399M217.9 399V507.2" fill="none" stroke="#000" stroke-width="0.9"/>
<rect x="214.8" y="320.3" width="3.1" height="65.2" fill="#8c8c8c"/>
<path d="M214.8 385.5V320.3H217.9V385.5" fill="none" stroke="#000" stroke-width="0.9"/>
<line x1="216.35" y1="317" x2="216.35" y2="320.3" stroke="#222" stroke-width="0.85"/>
<line x1="215.35" y1="317" x2="217.35" y2="317" stroke="#222" stroke-width="0.9"/>
<text x="216.35" y="317.38" font-size="6.5" text-anchor="middle" font-weight="bold">*</text>
<rect x="217.9" y="399" width="3.7" height="108.2" fill="#161616"/>
<path d="M217.9 507.2V399M221.6 399V507.2" fill="none" stroke="#000" stroke-width="0.9"/>
<rect x="217.9" y="331.9" width="3.7" height="53.6" fill="#161616"/>
<path d="M217.9 385.5V331.9H221.6V385.5" fill="none" stroke="#000" stroke-width="0.9"/>
<line x1="219.75" y1="326.4" x2="219.75" y2="331.9" stroke="#222" stroke-width="0.85"/>
<line x1="218.75" y1="326.4" x2="220.75" y2="326.4" stroke="#222" stroke-width="0.9"/>
<text x="219.75" y="326.57" font-size="6.5" text-anchor="middle" font-weight="bold">*</text>
<text x="60.8" y="509.2" font-size="9" text-anchor="end" font-weight="bold" transform="rotate(-90 60.8 509.2)">Unstim</text>
<text x="86.5" y="510.8" font-size="9" text-anchor="end" font-weight="bold" transform="rotate(-90 86.5 510.8)">IL-36Ra</text>
<text x="111.6" y="510" font-size="9" text-anchor="end" font-weight="bold" transform="rotate(-90 111.6 510)">IL-36<tspan font-weight="normal" font-size="8.1">α</tspan></text>
<text x="136.5" y="510.4" font-size="9" text-anchor="end" font-weight="bold" transform="rotate(-90 136.5 510.4)">IL-36<tspan font-weight="normal" font-size="8.1">β</tspan></text>
<text x="160.8" y="511.9" font-size="9" text-anchor="end" font-weight="bold" transform="rotate(-90 160.8 511.9)">IL-36<tspan font-weight="normal" font-size="8.1">γ</tspan></text>
<text x="186.7" y="510.4" font-size="9" text-anchor="end" font-weight="bold" transform="rotate(-90 186.7 510.4)">IL-1<tspan font-weight="normal" font-size="8.1">β</tspan></text>
<text x="212.6" y="508.4" font-size="9" text-anchor="end" font-weight="bold" transform="rotate(-90 212.6 508.4)">LPS</text>
<text x="271.5" y="309" font-size="17.5" text-anchor="start" font-weight="bold">D</text>
<text x="284.8" y="406.3" font-size="8.8" text-anchor="middle" font-weight="bold" transform="rotate(-90 284.8 406.3)">CCL4 (pg/ml)</text>
<line x1="316.3" y1="315.75" x2="316.3" y2="392.3" stroke="#4a4a4a" stroke-width="1"/>
<line x1="313.4" y1="316.25" x2="316.3" y2="316.25" stroke="#4a4a4a" stroke-width="1"/>
<text x="313" y="319.27" font-size="8.4" text-anchor="end" font-weight="bold" letter-spacing="0.3">35000</text>
<line x1="313.4" y1="338.6" x2="316.3" y2="338.6" stroke="#4a4a4a" stroke-width="1"/>
<text x="313" y="341.62" font-size="8.4" text-anchor="end" font-weight="bold" letter-spacing="0.3">25000</text>
<line x1="313.4" y1="361" x2="316.3" y2="361" stroke="#4a4a4a" stroke-width="1"/>
<text x="313" y="364.02" font-size="8.4" text-anchor="end" font-weight="bold" letter-spacing="0.3">15000</text>
<line x1="313.4" y1="383.2" x2="316.3" y2="383.2" stroke="#4a4a4a" stroke-width="1"/>
<text x="313" y="386.22" font-size="8.4" text-anchor="end" font-weight="bold" letter-spacing="0.3">5000</text>
<line x1="314.8" y1="392.3" x2="317.8" y2="392.3" stroke="#4a4a4a" stroke-width="1"/>
<line x1="316.3" y1="403.2" x2="316.3" y2="507.9" stroke="#4a4a4a" stroke-width="1"/>
<line x1="313.4" y1="403.2" x2="316.3" y2="403.2" stroke="#4a4a4a" stroke-width="1"/>
<text x="313" y="406.22" font-size="8.4" text-anchor="end" font-weight="bold" letter-spacing="0.3">1000</text>
<line x1="313.4" y1="424.1" x2="316.3" y2="424.1" stroke="#4a4a4a" stroke-width="1"/>
<text x="313" y="427.12" font-size="8.4" text-anchor="end" font-weight="bold" letter-spacing="0.3">800</text>
<line x1="313.4" y1="445" x2="316.3" y2="445" stroke="#4a4a4a" stroke-width="1"/>
<text x="313" y="448.02" font-size="8.4" text-anchor="end" font-weight="bold" letter-spacing="0.3">600</text>
<line x1="313.4" y1="465.8" x2="316.3" y2="465.8" stroke="#4a4a4a" stroke-width="1"/>
<text x="313" y="468.82" font-size="8.4" text-anchor="end" font-weight="bold" letter-spacing="0.3">400</text>
<line x1="313.4" y1="486.6" x2="316.3" y2="486.6" stroke="#4a4a4a" stroke-width="1"/>
<text x="313" y="489.62" font-size="8.4" text-anchor="end" font-weight="bold" letter-spacing="0.3">200</text>
<line x1="313.4" y1="507.4" x2="316.3" y2="507.4" stroke="#4a4a4a" stroke-width="1"/>
<text x="313" y="510.42" font-size="8.4" text-anchor="end" font-weight="bold" letter-spacing="0.3">0</text>
<line x1="315.8" y1="507.4" x2="502.5" y2="507.4" stroke="#4a4a4a" stroke-width="1"/>
<rect x="316.7" y="455.8" width="3.9" height="51.6" fill="#ffffff"/>
<path d="M316.7 507.4V455.8H320.6V507.4" fill="none" stroke="#000" stroke-width="0.9"/>
<line x1="318.65" y1="452.9" x2="318.65" y2="455.8" stroke="#222" stroke-width="0.85"/>
<line x1="317.65" y1="452.9" x2="319.65" y2="452.9" stroke="#222" stroke-width="0.9"/>
<rect x="320.6" y="432.7" width="3.2" height="74.7" fill="#bcbcbc"/>
<path d="M320.6 507.4V432.7H323.8V507.4" fill="none" stroke="#000" stroke-width="0.9"/>
<line x1="322.2" y1="425" x2="322.2" y2="432.7" stroke="#222" stroke-width="0.85"/>
<line x1="321.2" y1="425" x2="323.2" y2="425" stroke="#222" stroke-width="0.9"/>
<rect x="350" y="423.1" width="3.8" height="84.3" fill="#ffffff"/>
<path d="M350 507.4V423.1H353.8V507.4" fill="none" stroke="#000" stroke-width="0.9"/>
<line x1="351.9" y1="416.3" x2="351.9" y2="423.1" stroke="#222" stroke-width="0.85"/>
<line x1="350.9" y1="416.3" x2="352.9" y2="416.3" stroke="#222" stroke-width="0.9"/>
<rect x="353.8" y="426.5" width="3.7" height="80.9" fill="#bcbcbc"/>
<path d="M353.8 507.4V426.5H357.5V507.4" fill="none" stroke="#000" stroke-width="0.9"/>
<line x1="355.65" y1="422.7" x2="355.65" y2="426.5" stroke="#222" stroke-width="0.85"/>
<line x1="354.65" y1="422.7" x2="356.65" y2="422.7" stroke="#222" stroke-width="0.9"/>
<rect x="357.5" y="430.8" width="3.8" height="76.6" fill="#d8d8d8"/>
<path d="M357.5 507.4V430.8H361.3V507.4" fill="none" stroke="#000" stroke-width="0.9"/>
<line x1="359.4" y1="419.2" x2="359.4" y2="430.8" stroke="#222" stroke-width="0.85"/>
<line x1="358.4" y1="419.2" x2="360.4" y2="419.2" stroke="#222" stroke-width="0.9"/>
<rect x="361.3" y="455.4" width="3.5" height="52" fill="#8c8c8c"/>
<path d="M361.3 507.4V455.4H364.8V507.4" fill="none" stroke="#000" stroke-width="0.9"/>
<line x1="363.05" y1="452" x2="363.05" y2="455.4" stroke="#222" stroke-width="0.85"/>
<line x1="362.05" y1="452" x2="364.05" y2="452" stroke="#222" stroke-width="0.9"/>
<rect x="364.8" y="417.7" width="3.9" height="89.7" fill="#161616"/>
<path d="M364.8 507.4V417.7H368.7V507.4" fill="none" stroke="#000" stroke-width="0.9"/>
<line x1="366.75" y1="403.5" x2="366.75" y2="417.7" stroke="#222" stroke-width="0.85"/>
<line x1="365.75" y1="403.5" x2="367.75" y2="403.5" stroke="#222" stroke-width="0.9"/>
<rect x="377.3" y="436.5" width="3.5" height="70.9" fill="#ffffff"/>
<path d="M377.3 507.4V436.5H380.8V507.4" fill="none" stroke="#000" stroke-width="0.9"/>
<line x1="379.05" y1="427.5" x2="379.05" y2="436.5" stroke="#222" stroke-width="0.85"/>
<line x1="378.05" y1="427.5" x2="380.05" y2="427.5" stroke="#222" stroke-width="0.9"/>
<rect x="380.8" y="467.3" width="3.6" height="40.1" fill="#bcbcbc"/>
<path d="M380.8 507.4V467.3H384.4V507.4" fill="none" stroke="#000" stroke-width="0.9"/>
<line x1="382.6" y1="465.4" x2="382.6" y2="467.3" stroke="#222" stroke-width="0.85"/>
<line x1="381.6" y1="465.4" x2="383.6" y2="465.4" stroke="#222" stroke-width="0.9"/>
<rect x="384.4" y="403.2" width="3.8" height="104.2" fill="#d8d8d8"/>
<path d="M384.4 507.4V403.2M388.2 403.2V507.4" fill="none" stroke="#000" stroke-width="0.9"/>
<rect x="384.4" y="388" width="3.8" height="4.3" fill="#d8d8d8"/>
<path d="M384.4 392.3V388H388.2V392.3" fill="none" stroke="#000" stroke-width="0.9"/>
<text x="386.3" y="388.18" font-size="6.5" text-anchor="middle" font-weight="bold">*</text>
<rect x="388.2" y="403.2" width="3.5" height="104.2" fill="#8c8c8c"/>
<path d="M388.2 507.4V403.2M391.7 403.2V507.4" fill="none" stroke="#000" stroke-width="0.9"/>
<rect x="388.2" y="366.2" width="3.5" height="26.1" fill="#8c8c8c"/>
<path d="M388.2 392.3V366.2H391.7V392.3" fill="none" stroke="#000" stroke-width="0.9"/>
<line x1="389.95" y1="360" x2="389.95" y2="366.2" stroke="#222" stroke-width="0.85"/>
<line x1="388.95" y1="360" x2="390.95" y2="360" stroke="#222" stroke-width="0.9"/>
<text x="389.95" y="361.27" font-size="6.5" text-anchor="middle" font-weight="bold">*</text>
<rect x="391.7" y="424.6" width="3.5" height="82.8" fill="#161616"/>
<path d="M391.7 507.4V424.6H395.2V507.4" fill="none" stroke="#000" stroke-width="0.9"/>
<line x1="393.45" y1="420.2" x2="393.45" y2="424.6" stroke="#222" stroke-width="0.85"/>
<line x1="392.45" y1="420.2" x2="394.45" y2="420.2" stroke="#222" stroke-width="0.9"/>
<rect x="404.2" y="474" width="3.5" height="33.4" fill="#ffffff"/>
<path d="M404.2 507.4V474H407.7V507.4" fill="none" stroke="#000" stroke-width="0.9"/>
<rect x="407.7" y="403.2" width="3.2" height="104.2" fill="#bcbcbc"/>
<path d="M407.7 507.4V403.2M410.9 403.2V507.4" fill="none" stroke="#000" stroke-width="0.9"/>
<rect x="407.7" y="388" width="3.2" height="4.3" fill="#bcbcbc"/>
<path d="M407.7 392.3V388H410.9V392.3" fill="none" stroke="#000" stroke-width="0.9"/>
<text x="409.3" y="387.57" font-size="6.5" text-anchor="middle" font-weight="bold">*</text>
<rect x="410.9" y="403.2" width="4" height="104.2" fill="#d8d8d8"/>
<path d="M410.9 507.4V403.2M414.9 403.2V507.4" fill="none" stroke="#000" stroke-width="0.9"/>
<rect x="410.9" y="375.1" width="4" height="17.2" fill="#d8d8d8"/>
<path d="M410.9 392.3V375.1H414.9V392.3" fill="none" stroke="#000" stroke-width="0.9"/>
<text x="412.9" y="374.57" font-size="6.5" text-anchor="middle" font-weight="bold">*</text>
<rect x="414.9" y="403.2" width="3.6" height="104.2" fill="#8c8c8c"/>
<path d="M414.9 507.4V403.2M418.5 403.2V507.4" fill="none" stroke="#000" stroke-width="0.9"/>
<rect x="414.9" y="363.8" width="3.6" height="28.5" fill="#8c8c8c"/>
<path d="M414.9 392.3V363.8H418.5V392.3" fill="none" stroke="#000" stroke-width="0.9"/>
<text x="416.7" y="363.07" font-size="6.5" text-anchor="middle" font-weight="bold">*</text>
<rect x="418.5" y="428.5" width="3.1" height="78.9" fill="#161616"/>
<path d="M418.5 507.4V428.5H421.6V507.4" fill="none" stroke="#000" stroke-width="0.9"/>
<line x1="420.05" y1="425" x2="420.05" y2="428.5" stroke="#222" stroke-width="0.85"/>
<line x1="419.05" y1="425" x2="421.05" y2="425" stroke="#222" stroke-width="0.9"/>
<rect x="430.4" y="481.7" width="3.6" height="25.7" fill="#ffffff"/>
<path d="M430.4 507.4V481.7H434V507.4" fill="none" stroke="#000" stroke-width="0.9"/>
<line x1="432.2" y1="475.4" x2="432.2" y2="481.7" stroke="#222" stroke-width="0.85"/>
<line x1="431.2" y1="475.4" x2="433.2" y2="475.4" stroke="#222" stroke-width="0.9"/>
<rect x="434" y="481.7" width="3.9" height="25.7" fill="#bcbcbc"/>
<path d="M434 507.4V481.7H437.9V507.4" fill="none" stroke="#000" stroke-width="0.9"/>
<line x1="435.95" y1="478.8" x2="435.95" y2="481.7" stroke="#222" stroke-width="0.85"/>
<line x1="434.95" y1="478.8" x2="436.95" y2="478.8" stroke="#222" stroke-width="0.9"/>
<rect x="437.9" y="403.2" width="3.3" height="104.2" fill="#d8d8d8"/>
<path d="M437.9 507.4V403.2M441.2 403.2V507.4" fill="none" stroke="#000" stroke-width="0.9"/>
<rect x="437.9" y="384.9" width="3.3" height="7.4" fill="#d8d8d8"/>
<path d="M437.9 392.3V384.9H441.2V392.3" fill="none" stroke="#000" stroke-width="0.9"/>
<text x="439.55" y="384.57" font-size="6.5" text-anchor="middle" font-weight="bold">*</text>
<rect x="441.2" y="403.2" width="3.6" height="104.2" fill="#8c8c8c"/>
<path d="M441.2 507.4V403.2M444.8 403.2V507.4" fill="none" stroke="#000" stroke-width="0.9"/>
<rect x="441.2" y="376.2" width="3.6" height="16.1" fill="#8c8c8c"/>
<path d="M441.2 392.3V376.2H444.8V392.3" fill="none" stroke="#000" stroke-width="0.9"/>
<text x="443" y="374.38" font-size="6.5" text-anchor="middle" font-weight="bold">*</text>
<rect x="444.8" y="414.4" width="3.7" height="93" fill="#161616"/>
<path d="M444.8 507.4V414.4H448.5V507.4" fill="none" stroke="#000" stroke-width="0.9"/>
<line x1="446.65" y1="407.3" x2="446.65" y2="414.4" stroke="#222" stroke-width="0.85"/>
<line x1="445.65" y1="407.3" x2="447.65" y2="407.3" stroke="#222" stroke-width="0.9"/>
<rect x="457.3" y="490.8" width="3.6" height="16.6" fill="#ffffff"/>
<path d="M457.3 507.4V490.8H460.9V507.4" fill="none" stroke="#000" stroke-width="0.9"/>
<line x1="459.1" y1="486.5" x2="459.1" y2="490.8" stroke="#222" stroke-width="0.85"/>
<line x1="458.1" y1="486.5" x2="460.1" y2="486.5" stroke="#222" stroke-width="0.9"/>
<rect x="460.9" y="492.3" width="3.5" height="15.1" fill="#bcbcbc"/>
<path d="M460.9 507.4V492.3H464.4V507.4" fill="none" stroke="#000" stroke-width="0.9"/>
<rect x="464.4" y="494.8" width="3.5" height="12.6" fill="#d8d8d8"/>
<path d="M464.4 507.4V494.8H467.9V507.4" fill="none" stroke="#000" stroke-width="0.9"/>
<rect x="467.9" y="500" width="3.4" height="7.4" fill="#8c8c8c"/>
<path d="M467.9 507.4V500H471.3V507.4" fill="none" stroke="#000" stroke-width="0.9"/>
<rect x="471.3" y="442" width="3.7" height="65.4" fill="#161616"/>
<path d="M471.3 507.4V442H475V507.4" fill="none" stroke="#000" stroke-width="0.9"/>
<line x1="473.15" y1="439.4" x2="473.15" y2="442" stroke="#222" stroke-width="0.85"/>
<line x1="472.15" y1="439.4" x2="474.15" y2="439.4" stroke="#222" stroke-width="0.9"/>
<rect x="484" y="454.2" width="3.9" height="53.2" fill="#ffffff"/>
<path d="M484 507.4V454.2H487.9V507.4" fill="none" stroke="#000" stroke-width="0.9"/>
<line x1="485.95" y1="446.2" x2="485.95" y2="454.2" stroke="#222" stroke-width="0.85"/>
<line x1="484.95" y1="446.2" x2="486.95" y2="446.2" stroke="#222" stroke-width="0.9"/>
<rect x="487.9" y="403.2" width="3.4" height="104.2" fill="#bcbcbc"/>
<path d="M487.9 507.4V403.2M491.3 403.2V507.4" fill="none" stroke="#000" stroke-width="0.9"/>
<rect x="487.9" y="384.4" width="3.4" height="7.9" fill="#bcbcbc"/>
<path d="M487.9 392.3V384.4H491.3V392.3" fill="none" stroke="#000" stroke-width="0.9"/>
<text x="489.6" y="384.07" font-size="6.5" text-anchor="middle" font-weight="bold">*</text>
<rect x="491.3" y="403.2" width="3.2" height="104.2" fill="#d8d8d8"/>
<path d="M491.3 507.4V403.2M494.5 403.2V507.4" fill="none" stroke="#000" stroke-width="0.9"/>
<rect x="491.3" y="373.2" width="3.2" height="19.1" fill="#d8d8d8"/>
<path d="M491.3 392.3V373.2H494.5V392.3" fill="none" stroke="#000" stroke-width="0.9"/>
<text x="492.9" y="373.07" font-size="6.5" text-anchor="middle" font-weight="bold">*</text>
<rect x="494.5" y="403.2" width="3.4" height="104.2" fill="#8c8c8c"/>
<path d="M494.5 507.4V403.2M497.9 403.2V507.4" fill="none" stroke="#000" stroke-width="0.9"/>
<rect x="494.5" y="369.8" width="3.4" height="22.5" fill="#8c8c8c"/>
<path d="M494.5 392.3V369.8H497.9V392.3" fill="none" stroke="#000" stroke-width="0.9"/>
<line x1="496.2" y1="363.9" x2="496.2" y2="369.8" stroke="#222" stroke-width="0.85"/>
<line x1="495.2" y1="363.9" x2="497.2" y2="363.9" stroke="#222" stroke-width="0.9"/>
<text x="496.2" y="364.07" font-size="6.5" text-anchor="middle" font-weight="bold">*</text>
<rect x="497.9" y="403.2" width="4.1" height="104.2" fill="#161616"/>
<path d="M497.9 507.4V403.2M502 403.2V507.4" fill="none" stroke="#000" stroke-width="0.9"/>
<rect x="497.9" y="366.8" width="4.1" height="25.5" fill="#161616"/>
<path d="M497.9 392.3V366.8H502V392.3" fill="none" stroke="#000" stroke-width="0.9"/>
<line x1="499.95" y1="358.5" x2="499.95" y2="366.8" stroke="#222" stroke-width="0.85"/>
<line x1="498.95" y1="358.5" x2="500.95" y2="358.5" stroke="#222" stroke-width="0.9"/>
<text x="499.95" y="358.57" font-size="6.5" text-anchor="middle" font-weight="bold">*</text>
<text x="333.7" y="508.8" font-size="9" text-anchor="end" font-weight="bold" transform="rotate(-90 333.7 508.8)">Unstim</text>
<text x="358" y="509.5" font-size="9" text-anchor="end" font-weight="bold" transform="rotate(-90 358 509.5)">IL-36Ra</text>
<text x="384.8" y="509.5" font-size="9" text-anchor="end" font-weight="bold" transform="rotate(-90 384.8 509.5)">IL-36<tspan font-weight="normal" font-size="8.1">α</tspan></text>
<text x="411.8" y="510" font-size="9" text-anchor="end" font-weight="bold" transform="rotate(-90 411.8 510)">IL-36<tspan font-weight="normal" font-size="8.1">β</tspan></text>
<text x="437.5" y="511.3" font-size="9" text-anchor="end" font-weight="bold" transform="rotate(-90 437.5 511.3)">IL-36<tspan font-weight="normal" font-size="8.1">γ</tspan></text>
<text x="465" y="509.5" font-size="9" text-anchor="end" font-weight="bold" transform="rotate(-90 465 509.5)">IL-1<tspan font-weight="normal" font-size="8.1">β</tspan></text>
<text x="492.1" y="508.2" font-size="9" text-anchor="end" font-weight="bold" transform="rotate(-90 492.1 508.2)">LPS</text>
<text x="2.5" y="576.5" font-size="17" text-anchor="start" font-weight="bold">E</text>
<text x="16.6" y="686.6" font-size="9" text-anchor="middle" font-weight="bold" transform="rotate(-90 16.6 686.6)">TNF-α (pg/ml)</text>
<line x1="46.2" y1="598.9" x2="46.2" y2="666.5" stroke="#4a4a4a" stroke-width="1"/>
<line x1="43.3" y1="599.4" x2="46.2" y2="599.4" stroke="#4a4a4a" stroke-width="1"/>
<text x="42.9" y="602.53" font-size="8.7" text-anchor="end" font-weight="bold" letter-spacing="0.3">11000</text>
<line x1="43.3" y1="612.2" x2="46.2" y2="612.2" stroke="#4a4a4a" stroke-width="1"/>
<text x="42.9" y="615.33" font-size="8.7" text-anchor="end" font-weight="bold" letter-spacing="0.3">9000</text>
<line x1="43.3" y1="625" x2="46.2" y2="625" stroke="#4a4a4a" stroke-width="1"/>
<text x="42.9" y="628.13" font-size="8.7" text-anchor="end" font-weight="bold" letter-spacing="0.3">7000</text>
<line x1="43.3" y1="637.9" x2="46.2" y2="637.9" stroke="#4a4a4a" stroke-width="1"/>
<text x="42.9" y="641.03" font-size="8.7" text-anchor="end" font-weight="bold" letter-spacing="0.3">5000</text>
<line x1="43.3" y1="650.7" x2="46.2" y2="650.7" stroke="#4a4a4a" stroke-width="1"/>
<text x="42.9" y="653.83" font-size="8.7" text-anchor="end" font-weight="bold" letter-spacing="0.3">3000</text>
<line x1="43.3" y1="663.5" x2="46.2" y2="663.5" stroke="#4a4a4a" stroke-width="1"/>
<text x="42.9" y="666.63" font-size="8.7" text-anchor="end" font-weight="bold" letter-spacing="0.3">1000</text>
<line x1="44.7" y1="666.5" x2="47.7" y2="666.5" stroke="#4a4a4a" stroke-width="1"/>
<line x1="46.2" y1="675.25" x2="46.2" y2="783.9" stroke="#4a4a4a" stroke-width="1"/>
<line x1="43.3" y1="675.25" x2="46.2" y2="675.25" stroke="#4a4a4a" stroke-width="1"/>
<text x="42.9" y="678.38" font-size="8.7" text-anchor="end" font-weight="bold" letter-spacing="0.3">500</text>
<line x1="43.3" y1="696.9" x2="46.2" y2="696.9" stroke="#4a4a4a" stroke-width="1"/>
<text x="42.9" y="700.03" font-size="8.7" text-anchor="end" font-weight="bold" letter-spacing="0.3">400</text>
<line x1="43.3" y1="718.5" x2="46.2" y2="718.5" stroke="#4a4a4a" stroke-width="1"/>
<text x="42.9" y="721.63" font-size="8.7" text-anchor="end" font-weight="bold" letter-spacing="0.3">300</text>
<line x1="43.3" y1="740.1" x2="46.2" y2="740.1" stroke="#4a4a4a" stroke-width="1"/>
<text x="42.9" y="743.23" font-size="8.7" text-anchor="end" font-weight="bold" letter-spacing="0.3">200</text>
<line x1="43.3" y1="761.8" x2="46.2" y2="761.8" stroke="#4a4a4a" stroke-width="1"/>
<text x="42.9" y="764.93" font-size="8.7" text-anchor="end" font-weight="bold" letter-spacing="0.3">100</text>
<line x1="43.3" y1="783.4" x2="46.2" y2="783.4" stroke="#4a4a4a" stroke-width="1"/>
<text x="42.9" y="786.53" font-size="8.7" text-anchor="end" font-weight="bold" letter-spacing="0.3">0</text>
<line x1="45.7" y1="783.4" x2="212.5" y2="783.4" stroke="#4a4a4a" stroke-width="1"/>
<rect x="103.25" y="695.6" width="4.15" height="87.8" fill="#bcbcbc"/>
<path d="M103.25 783.4V695.6H107.4V783.4" fill="none" stroke="#000" stroke-width="0.9"/>
<line x1="105.33" y1="686.25" x2="105.33" y2="695.6" stroke="#222" stroke-width="0.85"/>
<line x1="104.33" y1="686.25" x2="106.33" y2="686.25" stroke="#222" stroke-width="0.9"/>
<text x="105.33" y="686.58" font-size="6.5" text-anchor="middle" font-weight="bold">*</text>
<rect x="107.4" y="675.25" width="4.35" height="108.15" fill="#8c8c8c"/>
<path d="M107.4 783.4V675.25M111.75 675.25V783.4" fill="none" stroke="#000" stroke-width="0.9"/>
<rect x="107.4" y="661.9" width="4.35" height="4.6" fill="#8c8c8c"/>
<path d="M107.4 666.5V661.9H111.75V666.5" fill="none" stroke="#000" stroke-width="0.9"/>
<rect x="122.4" y="700.25" width="4.1" height="83.15" fill="#bcbcbc"/>
<path d="M122.4 783.4V700.25H126.5V783.4" fill="none" stroke="#000" stroke-width="0.9"/>
<line x1="124.45" y1="695" x2="124.45" y2="700.25" stroke="#222" stroke-width="0.85"/>
<line x1="123.45" y1="695" x2="125.45" y2="695" stroke="#222" stroke-width="0.9"/>
<text x="124.45" y="695.48" font-size="6.5" text-anchor="middle" font-weight="bold">*</text>
<rect x="126.5" y="675.25" width="4.5" height="108.15" fill="#d8d8d8"/>
<path d="M126.5 783.4V675.25M131 675.25V783.4" fill="none" stroke="#000" stroke-width="0.9"/>
<rect x="126.5" y="664.4" width="4.5" height="2.1" fill="#d8d8d8"/>
<path d="M126.5 666.5V664.4H131V666.5" fill="none" stroke="#000" stroke-width="0.9"/>
<text x="128.75" y="662.33" font-size="6.5" text-anchor="middle" font-weight="bold">*</text>
<rect x="131" y="675.25" width="4.5" height="108.15" fill="#8c8c8c"/>
<path d="M131 783.4V675.25M135.5 675.25V783.4" fill="none" stroke="#000" stroke-width="0.9"/>
<rect x="131" y="656.25" width="4.5" height="10.25" fill="#8c8c8c"/>
<path d="M131 666.5V656.25H135.5V666.5" fill="none" stroke="#000" stroke-width="0.9"/>
<text x="133.25" y="656.08" font-size="6.5" text-anchor="middle" font-weight="bold">*</text>
<rect x="146.5" y="777.6" width="4.5" height="5.8" fill="#bcbcbc"/>
<path d="M146.5 783.4V777.6H151V783.4" fill="none" stroke="#000" stroke-width="0.9"/>
<rect x="151" y="675.25" width="4" height="108.15" fill="#d8d8d8"/>
<path d="M151 783.4V675.25M155 675.25V783.4" fill="none" stroke="#000" stroke-width="0.9"/>
<rect x="151" y="665" width="4" height="1.5" fill="#d8d8d8"/>
<path d="M151 666.5V665H155V666.5" fill="none" stroke="#000" stroke-width="0.9"/>
<text x="153" y="664.58" font-size="6.5" text-anchor="middle" font-weight="bold">*</text>
<rect x="155" y="675.25" width="4.25" height="108.15" fill="#8c8c8c"/>
<path d="M155 783.4V675.25M159.25 675.25V783.4" fill="none" stroke="#000" stroke-width="0.9"/>
<rect x="155" y="662.25" width="4.25" height="4.25" fill="#8c8c8c"/>
<path d="M155 666.5V662.25H159.25V666.5" fill="none" stroke="#000" stroke-width="0.9"/>
<text x="157.12" y="659.83" font-size="6.5" text-anchor="middle" font-weight="bold">*</text>
<rect x="189.3" y="675.25" width="4.7" height="108.15" fill="#ffffff"/>
<path d="M189.3 783.4V675.25M194 675.25V783.4" fill="none" stroke="#000" stroke-width="0.9"/>
<rect x="189.3" y="662.6" width="4.7" height="3.9" fill="#ffffff"/>
<path d="M189.3 666.5V662.6H194V666.5" fill="none" stroke="#000" stroke-width="0.9"/>
<text x="191.65" y="661.58" font-size="6.5" text-anchor="middle" font-weight="bold">*</text>
<rect x="194" y="675.25" width="4.1" height="108.15" fill="#bcbcbc"/>
<path d="M194 783.4V675.25M198.1 675.25V783.4" fill="none" stroke="#000" stroke-width="0.9"/>
<rect x="194" y="642.3" width="4.1" height="24.2" fill="#bcbcbc"/>
<path d="M194 666.5V642.3H198.1V666.5" fill="none" stroke="#000" stroke-width="0.9"/>
<text x="196.05" y="640.88" font-size="6.5" text-anchor="middle" font-weight="bold">*</text>
<rect x="198.1" y="675.25" width="4.4" height="108.15" fill="#d8d8d8"/>
<path d="M198.1 783.4V675.25M202.5 675.25V783.4" fill="none" stroke="#000" stroke-width="0.9"/>
<rect x="198.1" y="623" width="4.4" height="43.5" fill="#d8d8d8"/>
<path d="M198.1 666.5V623H202.5V666.5" fill="none" stroke="#000" stroke-width="0.9"/>
<text x="200.3" y="622.78" font-size="6.5" text-anchor="middle" font-weight="bold">*</text>
<rect x="202.5" y="675.25" width="4.4" height="108.15" fill="#8c8c8c"/>
<path d="M202.5 783.4V675.25M206.9 675.25V783.4" fill="none" stroke="#000" stroke-width="0.9"/>
<rect x="202.5" y="625.8" width="4.4" height="40.7" fill="#8c8c8c"/>
<path d="M202.5 666.5V625.8H206.9V666.5" fill="none" stroke="#000" stroke-width="0.9"/>
<line x1="204.7" y1="620.3" x2="204.7" y2="625.8" stroke="#222" stroke-width="0.85"/>
<line x1="203.7" y1="620.3" x2="205.7" y2="620.3" stroke="#222" stroke-width="0.9"/>
<text x="204.7" y="618.98" font-size="6.5" text-anchor="middle" font-weight="bold">*</text>
<rect x="206.9" y="675.25" width="4.7" height="108.15" fill="#161616"/>
<path d="M206.9 783.4V675.25M211.6 675.25V783.4" fill="none" stroke="#000" stroke-width="0.9"/>
<rect x="206.9" y="626.9" width="4.7" height="39.6" fill="#161616"/>
<path d="M206.9 666.5V626.9H211.6V666.5" fill="none" stroke="#000" stroke-width="0.9"/>
<line x1="209.25" y1="616.5" x2="209.25" y2="626.9" stroke="#222" stroke-width="0.85"/>
<line x1="208.25" y1="616.5" x2="210.25" y2="616.5" stroke="#222" stroke-width="0.9"/>
<text x="209.25" y="616.78" font-size="6.5" text-anchor="middle" font-weight="bold">*</text>
<text x="60.8" y="784.9" font-size="9" text-anchor="end" font-weight="bold" transform="rotate(-90 60.8 784.9)">Unstim</text>
<text x="83.8" y="785.8" font-size="9" text-anchor="end" font-weight="bold" transform="rotate(-90 83.8 785.8)">IL-36Ra</text>
<text x="107.2" y="785.8" font-size="9" text-anchor="end" font-weight="bold" transform="rotate(-90 107.2 785.8)">IL-36<tspan font-weight="normal" font-size="8.1">α</tspan></text>
<text x="131.1" y="785.8" font-size="9" text-anchor="end" font-weight="bold" transform="rotate(-90 131.1 785.8)">IL-36<tspan font-weight="normal" font-size="8.1">β</tspan></text>
<text x="154.9" y="787" font-size="9" text-anchor="end" font-weight="bold" transform="rotate(-90 154.9 787)">IL-36<tspan font-weight="normal" font-size="8.1">γ</tspan></text>
<text x="179.1" y="785.8" font-size="9" text-anchor="end" font-weight="bold" transform="rotate(-90 179.1 785.8)">IL-1<tspan font-weight="normal" font-size="8.1">β</tspan></text>
<text x="203.5" y="784.6" font-size="9" text-anchor="end" font-weight="bold" transform="rotate(-90 203.5 784.6)">LPS</text>
<text x="271.5" y="576.3" font-size="17" text-anchor="start" font-weight="bold">F</text>
<text x="279" y="676.9" font-size="8.9" text-anchor="middle" font-weight="bold" transform="rotate(-90 279 676.9)">G-CSF (pg/ml)</text>
<line x1="313.6" y1="582.6" x2="313.6" y2="652" stroke="#4a4a4a" stroke-width="1"/>
<line x1="310.7" y1="583.1" x2="313.6" y2="583.1" stroke="#4a4a4a" stroke-width="1"/>
<text x="310.3" y="586.18" font-size="8.55" text-anchor="end" font-weight="bold" letter-spacing="0.3">11000</text>
<line x1="310.7" y1="596.2" x2="313.6" y2="596.2" stroke="#4a4a4a" stroke-width="1"/>
<text x="310.3" y="599.28" font-size="8.55" text-anchor="end" font-weight="bold" letter-spacing="0.3">9000</text>
<line x1="310.7" y1="609.3" x2="313.6" y2="609.3" stroke="#4a4a4a" stroke-width="1"/>
<text x="310.3" y="612.38" font-size="8.55" text-anchor="end" font-weight="bold" letter-spacing="0.3">7000</text>
<line x1="310.7" y1="622.4" x2="313.6" y2="622.4" stroke="#4a4a4a" stroke-width="1"/>
<text x="310.3" y="625.48" font-size="8.55" text-anchor="end" font-weight="bold" letter-spacing="0.3">5000</text>
<line x1="310.7" y1="635.4" x2="313.6" y2="635.4" stroke="#4a4a4a" stroke-width="1"/>
<text x="310.3" y="638.48" font-size="8.55" text-anchor="end" font-weight="bold" letter-spacing="0.3">3000</text>
<line x1="310.7" y1="648.5" x2="313.6" y2="648.5" stroke="#4a4a4a" stroke-width="1"/>
<text x="310.3" y="651.58" font-size="8.55" text-anchor="end" font-weight="bold" letter-spacing="0.3">1000</text>
<line x1="312.1" y1="652" x2="315.1" y2="652" stroke="#4a4a4a" stroke-width="1"/>
<line x1="313.6" y1="663" x2="313.6" y2="781.6" stroke="#4a4a4a" stroke-width="1"/>
<line x1="310.7" y1="663" x2="313.6" y2="663" stroke="#4a4a4a" stroke-width="1"/>
<text x="310.3" y="666.08" font-size="8.55" text-anchor="end" font-weight="bold" letter-spacing="0.3">500</text>
<line x1="310.7" y1="686.6" x2="313.6" y2="686.6" stroke="#4a4a4a" stroke-width="1"/>
<text x="310.3" y="689.68" font-size="8.55" text-anchor="end" font-weight="bold" letter-spacing="0.3">400</text>
<line x1="310.7" y1="710.2" x2="313.6" y2="710.2" stroke="#4a4a4a" stroke-width="1"/>
<text x="310.3" y="713.28" font-size="8.55" text-anchor="end" font-weight="bold" letter-spacing="0.3">300</text>
<line x1="310.7" y1="733.8" x2="313.6" y2="733.8" stroke="#4a4a4a" stroke-width="1"/>
<text x="310.3" y="736.88" font-size="8.55" text-anchor="end" font-weight="bold" letter-spacing="0.3">200</text>
<line x1="310.7" y1="757.4" x2="313.6" y2="757.4" stroke="#4a4a4a" stroke-width="1"/>
<text x="310.3" y="760.48" font-size="8.55" text-anchor="end" font-weight="bold" letter-spacing="0.3">100</text>
<line x1="310.7" y1="781" x2="313.6" y2="781" stroke="#4a4a4a" stroke-width="1"/>
<text x="310.3" y="784.08" font-size="8.55" text-anchor="end" font-weight="bold" letter-spacing="0.3">0</text>
<line x1="313.1" y1="781.1" x2="507.5" y2="781.1" stroke="#4a4a4a" stroke-width="1"/>
<rect x="329.5" y="780" width="3" height="1.1" fill="#b4b4b4"/>
<path d="M329.5 781.1V780H332.5V781.1" fill="none" stroke="#000" stroke-width="0.9"/>
<rect x="336.8" y="780" width="3" height="1.1" fill="#efefef"/>
<path d="M336.8 781.1V780H339.8V781.1" fill="none" stroke="#000" stroke-width="0.9"/>
<rect x="342.5" y="779" width="3.2" height="2.1" fill="#ffffff"/>
<path d="M342.5 781.1V779H345.7V781.1" fill="none" stroke="#000" stroke-width="0.9"/>
<rect x="345.7" y="779" width="3.8" height="2.1" fill="#bcbcbc"/>
<path d="M345.7 781.1V779H349.5V781.1" fill="none" stroke="#000" stroke-width="0.9"/>
<rect x="349.5" y="775.5" width="4" height="5.6" fill="#d8d8d8"/>
<path d="M349.5 781.1V775.5H353.5V781.1" fill="none" stroke="#000" stroke-width="0.9"/>
<line x1="351.5" y1="772.8" x2="351.5" y2="775.5" stroke="#222" stroke-width="0.85"/>
<line x1="350.5" y1="772.8" x2="352.5" y2="772.8" stroke="#222" stroke-width="0.9"/>
<rect x="353.5" y="777.5" width="4.1" height="3.6" fill="#8c8c8c"/>
<path d="M353.5 781.1V777.5H357.6V781.1" fill="none" stroke="#000" stroke-width="0.9"/>
<rect x="357.6" y="780" width="3.4" height="1.1" fill="#161616"/>
<path d="M357.6 781.1V780H361V781.1" fill="none" stroke="#000" stroke-width="0.9"/>
<rect x="371.3" y="779.4" width="4" height="1.7" fill="#ffffff"/>
<path d="M371.3 781.1V779.4H375.3V781.1" fill="none" stroke="#000" stroke-width="0.9"/>
<rect x="375.3" y="700.5" width="3.9" height="80.6" fill="#bcbcbc"/>
<path d="M375.3 781.1V700.5H379.2V781.1" fill="none" stroke="#000" stroke-width="0.9"/>
<line x1="377.25" y1="695" x2="377.25" y2="700.5" stroke="#222" stroke-width="0.85"/>
<line x1="376.25" y1="695" x2="378.25" y2="695" stroke="#222" stroke-width="0.9"/>
<text x="377.25" y="694.58" font-size="6.5" text-anchor="middle" font-weight="bold">*</text>
<rect x="379.2" y="663" width="3.9" height="118.1" fill="#d8d8d8"/>
<path d="M379.2 781.1V663M383.1 663V781.1" fill="none" stroke="#000" stroke-width="0.9"/>
<rect x="379.2" y="634.6" width="3.9" height="17.4" fill="#d8d8d8"/>
<path d="M379.2 652V634.6H383.1V652" fill="none" stroke="#000" stroke-width="0.9"/>
<text x="381.15" y="632.78" font-size="6.5" text-anchor="middle" font-weight="bold">*</text>
<rect x="383.1" y="663" width="3.8" height="118.1" fill="#8c8c8c"/>
<path d="M383.1 781.1V663M386.9 663V781.1" fill="none" stroke="#000" stroke-width="0.9"/>
<rect x="383.1" y="624.6" width="3.8" height="27.4" fill="#8c8c8c"/>
<path d="M383.1 652V624.6H386.9V652" fill="none" stroke="#000" stroke-width="0.9"/>
<text x="385" y="624.38" font-size="6.5" text-anchor="middle" font-weight="bold">*</text>
<rect x="386.9" y="780" width="3.5" height="1.1" fill="#161616"/>
<path d="M386.9 781.1V780H390.4V781.1" fill="none" stroke="#000" stroke-width="0.9"/>
<rect x="400.2" y="727.5" width="4" height="53.6" fill="#ffffff"/>
<path d="M400.2 781.1V727.5H404.2V781.1" fill="none" stroke="#000" stroke-width="0.9"/>
<line x1="402.2" y1="721.9" x2="402.2" y2="727.5" stroke="#222" stroke-width="0.85"/>
<line x1="401.2" y1="721.9" x2="403.2" y2="721.9" stroke="#222" stroke-width="0.9"/>
<text x="402.2" y="721.58" font-size="6.5" text-anchor="middle" font-weight="bold">*</text>
<rect x="404.2" y="663" width="3.5" height="118.1" fill="#bcbcbc"/>
<path d="M404.2 781.1V663M407.7 663V781.1" fill="none" stroke="#000" stroke-width="0.9"/>
<rect x="404.2" y="634.6" width="3.5" height="17.4" fill="#bcbcbc"/>
<path d="M404.2 652V634.6H407.7V652" fill="none" stroke="#000" stroke-width="0.9"/>
<text x="405.95" y="634.38" font-size="6.5" text-anchor="middle" font-weight="bold">*</text>
<rect x="407.7" y="663" width="3.8" height="118.1" fill="#d8d8d8"/>
<path d="M407.7 781.1V663M411.5 663V781.1" fill="none" stroke="#000" stroke-width="0.9"/>
<rect x="407.7" y="627.4" width="3.8" height="24.6" fill="#d8d8d8"/>
<path d="M407.7 652V627.4H411.5V652" fill="none" stroke="#000" stroke-width="0.9"/>
<line x1="409.6" y1="623" x2="409.6" y2="627.4" stroke="#222" stroke-width="0.85"/>
<line x1="408.6" y1="623" x2="410.6" y2="623" stroke="#222" stroke-width="0.9"/>
<text x="409.6" y="622.78" font-size="6.5" text-anchor="middle" font-weight="bold">*</text>
<rect x="411.5" y="663" width="4.3" height="118.1" fill="#8c8c8c"/>
<path d="M411.5 781.1V663M415.8 663V781.1" fill="none" stroke="#000" stroke-width="0.9"/>
<rect x="411.5" y="618.2" width="4.3" height="33.8" fill="#8c8c8c"/>
<path d="M411.5 652V618.2H415.8V652" fill="none" stroke="#000" stroke-width="0.9"/>
<text x="413.65" y="617.38" font-size="6.5" text-anchor="middle" font-weight="bold">*</text>
<rect x="415.8" y="780" width="3.7" height="1.1" fill="#161616"/>
<path d="M415.8 781.1V780H419.5V781.1" fill="none" stroke="#000" stroke-width="0.9"/>
<rect x="429.4" y="770.3" width="3.8" height="10.8" fill="#ffffff"/>
<path d="M429.4 781.1V770.3H433.2V781.1" fill="none" stroke="#000" stroke-width="0.9"/>
<rect x="433.2" y="663" width="3.7" height="118.1" fill="#bcbcbc"/>
<path d="M433.2 781.1V663M436.9 663V781.1" fill="none" stroke="#000" stroke-width="0.9"/>
<rect x="433.2" y="648.9" width="3.7" height="3.1" fill="#bcbcbc"/>
<path d="M433.2 652V648.9H436.9V652" fill="none" stroke="#000" stroke-width="0.9"/>
<text x="435.05" y="649.28" font-size="6.5" text-anchor="middle" font-weight="bold">*</text>
<rect x="436.9" y="663" width="3.9" height="118.1" fill="#d8d8d8"/>
<path d="M436.9 781.1V663M440.8 663V781.1" fill="none" stroke="#000" stroke-width="0.9"/>
<rect x="436.9" y="624.3" width="3.9" height="27.7" fill="#d8d8d8"/>
<path d="M436.9 652V624.3H440.8V652" fill="none" stroke="#000" stroke-width="0.9"/>
<text x="438.85" y="623.28" font-size="6.5" text-anchor="middle" font-weight="bold">*</text>
<rect x="440.8" y="663" width="4.3" height="118.1" fill="#8c8c8c"/>
<path d="M440.8 781.1V663M445.1 663V781.1" fill="none" stroke="#000" stroke-width="0.9"/>
<rect x="440.8" y="613.1" width="4.3" height="38.9" fill="#8c8c8c"/>
<path d="M440.8 652V613.1H445.1V652" fill="none" stroke="#000" stroke-width="0.9"/>
<line x1="442.95" y1="607.7" x2="442.95" y2="613.1" stroke="#222" stroke-width="0.85"/>
<line x1="441.95" y1="607.7" x2="443.95" y2="607.7" stroke="#222" stroke-width="0.9"/>
<text x="442.95" y="608.18" font-size="6.5" text-anchor="middle" font-weight="bold">*</text>
<rect x="458.4" y="772.5" width="3.9" height="8.6" fill="#ffffff"/>
<path d="M458.4 781.1V772.5H462.3V781.1" fill="none" stroke="#000" stroke-width="0.9"/>
<rect x="462.3" y="745.6" width="4.1" height="35.5" fill="#bcbcbc"/>
<path d="M462.3 781.1V745.6H466.4V781.1" fill="none" stroke="#000" stroke-width="0.9"/>
<line x1="464.35" y1="740.4" x2="464.35" y2="745.6" stroke="#222" stroke-width="0.85"/>
<line x1="463.35" y1="740.4" x2="465.35" y2="740.4" stroke="#222" stroke-width="0.9"/>
<text x="464.35" y="740.58" font-size="6.5" text-anchor="middle" font-weight="bold">*</text>
<rect x="466.4" y="710.6" width="3.4" height="70.5" fill="#d8d8d8"/>
<path d="M466.4 781.1V710.6H469.8V781.1" fill="none" stroke="#000" stroke-width="0.9"/>
<line x1="468.1" y1="706.3" x2="468.1" y2="710.6" stroke="#222" stroke-width="0.85"/>
<line x1="467.1" y1="706.3" x2="469.1" y2="706.3" stroke="#222" stroke-width="0.9"/>
<text x="468.1" y="706.58" font-size="6.5" text-anchor="middle" font-weight="bold">*</text>
<rect x="469.8" y="705" width="4.5" height="76.1" fill="#8c8c8c"/>
<path d="M469.8 781.1V705H474.3V781.1" fill="none" stroke="#000" stroke-width="0.9"/>
<line x1="472.05" y1="690.1" x2="472.05" y2="705" stroke="#222" stroke-width="0.85"/>
<line x1="471.05" y1="690.1" x2="473.05" y2="690.1" stroke="#222" stroke-width="0.9"/>
<rect x="474.3" y="724.2" width="3.7" height="56.9" fill="#161616"/>
<path d="M474.3 781.1V724.2H478V781.1" fill="none" stroke="#000" stroke-width="0.9"/>
<line x1="476.15" y1="717.4" x2="476.15" y2="724.2" stroke="#222" stroke-width="0.85"/>
<line x1="475.15" y1="717.4" x2="477.15" y2="717.4" stroke="#222" stroke-width="0.9"/>
<rect x="487.4" y="717.4" width="3.9" height="63.7" fill="#ffffff"/>
<path d="M487.4 781.1V717.4H491.3V781.1" fill="none" stroke="#000" stroke-width="0.9"/>
<line x1="489.35" y1="714" x2="489.35" y2="717.4" stroke="#222" stroke-width="0.85"/>
<line x1="488.35" y1="714" x2="490.35" y2="714" stroke="#222" stroke-width="0.9"/>
<text x="489.35" y="713.28" font-size="6.5" text-anchor="middle" font-weight="bold">*</text>
<rect x="491.3" y="676" width="3.8" height="105.1" fill="#bcbcbc"/>
<path d="M491.3 781.1V676H495.1V781.1" fill="none" stroke="#000" stroke-width="0.9"/>
<line x1="493.2" y1="670.5" x2="493.2" y2="676" stroke="#222" stroke-width="0.85"/>
<line x1="492.2" y1="670.5" x2="494.2" y2="670.5" stroke="#222" stroke-width="0.9"/>
<text x="493.2" y="670.28" font-size="6.5" text-anchor="middle" font-weight="bold">*</text>
<rect x="495.1" y="663" width="3.2" height="118.1" fill="#d8d8d8"/>
<path d="M495.1 781.1V663M498.3 663V781.1" fill="none" stroke="#000" stroke-width="0.9"/>
<rect x="495.1" y="645.1" width="3.2" height="6.9" fill="#d8d8d8"/>
<path d="M495.1 652V645.1H498.3V652" fill="none" stroke="#000" stroke-width="0.9"/>
<rect x="498.3" y="663" width="3.9" height="118.1" fill="#8c8c8c"/>
<path d="M498.3 781.1V663M502.2 663V781.1" fill="none" stroke="#000" stroke-width="0.9"/>
<rect x="498.3" y="636.6" width="3.9" height="15.4" fill="#8c8c8c"/>
<path d="M498.3 652V636.6H502.2V652" fill="none" stroke="#000" stroke-width="0.9"/>
<line x1="500.25" y1="634.1" x2="500.25" y2="636.6" stroke="#222" stroke-width="0.85"/>
<line x1="499.25" y1="634.1" x2="501.25" y2="634.1" stroke="#222" stroke-width="0.9"/>
<rect x="502.2" y="663" width="4.2" height="118.1" fill="#161616"/>
<path d="M502.2 781.1V663M506.4 663V781.1" fill="none" stroke="#000" stroke-width="0.9"/>
<rect x="502.2" y="625.2" width="4.2" height="26.8" fill="#161616"/>
<path d="M502.2 652V625.2H506.4V652" fill="none" stroke="#000" stroke-width="0.9"/>
<line x1="504.3" y1="614.6" x2="504.3" y2="625.2" stroke="#222" stroke-width="0.85"/>
<line x1="503.3" y1="614.6" x2="505.3" y2="614.6" stroke="#222" stroke-width="0.9"/>
<text x="504.3" y="618.58" font-size="6.5" text-anchor="middle" font-weight="bold">*</text>
<line x1="466.4" y1="690.1" x2="478.9" y2="690.1" stroke="#000" stroke-width="0.8"/>
<text x="472.5" y="687.68" font-size="6.5" text-anchor="middle" font-weight="bold">*</text>
<text x="331.1" y="781.8" font-size="9" text-anchor="end" font-weight="bold" transform="rotate(-90 331.1 781.8)">Unstim</text>
<text x="359.2" y="782.5" font-size="9" text-anchor="end" font-weight="bold" transform="rotate(-90 359.2 782.5)">IL-36Ra</text>
<text x="387.9" y="782.5" font-size="9" text-anchor="end" font-weight="bold" transform="rotate(-90 387.9 782.5)">IL-36<tspan font-weight="normal" font-size="8.1">α</tspan></text>
<text x="417" y="783" font-size="9" text-anchor="end" font-weight="bold" transform="rotate(-90 417 783)">IL-36<tspan font-weight="normal" font-size="8.1">β</tspan></text>
<text x="445" y="784" font-size="9" text-anchor="end" font-weight="bold" transform="rotate(-90 445 784)">IL-36<tspan font-weight="normal" font-size="8.1">γ</tspan></text>
<text x="474" y="783.2" font-size="9" text-anchor="end" font-weight="bold" transform="rotate(-90 474 783.2)">IL-1<tspan font-weight="normal" font-size="8.1">β</tspan></text>
<text x="502.9" y="782.5" font-size="9" text-anchor="end" font-weight="bold" transform="rotate(-90 502.9 782.5)">LPS</text>
<rect x="62.9" y="28.9" width="10.5" height="5" fill="#b4b4b4" stroke="#000" stroke-width="0.9"/>
<text x="74.8" y="34.1" font-size="7" text-anchor="start" font-weight="bold">Unstim</text>
<rect x="62.9" y="33.9" width="10.5" height="5" fill="#ffffff" stroke="#000" stroke-width="0.9"/>
<text x="74.8" y="39.1" font-size="7" text-anchor="start" font-weight="bold">1 ng/ml</text>
<rect x="62.9" y="40" width="10.5" height="4.9" fill="#bcbcbc" stroke="#000" stroke-width="0.9"/>
<text x="74.8" y="45.1" font-size="7" text-anchor="start" font-weight="bold">10 ng/ml</text>
<rect x="62.9" y="47" width="10.5" height="5" fill="#d8d8d8" stroke="#000" stroke-width="0.9"/>
<text x="74.8" y="52.2" font-size="7" text-anchor="start" font-weight="bold">100 ng/ml</text>
<rect x="62.9" y="54.3" width="10.5" height="5.2" fill="#8c8c8c" stroke="#000" stroke-width="0.9"/>
<text x="74.8" y="59.7" font-size="7" text-anchor="start" font-weight="bold">1 μg/ml</text>
<rect x="62.9" y="71" width="10.5" height="4.5" fill="#efefef" stroke="#000" stroke-width="0.9"/>
<text x="74.8" y="75.7" font-size="7" text-anchor="start" font-weight="bold">Unstim</text>
<rect x="62.9" y="78.5" width="10.5" height="5" fill="#161616" stroke="#000" stroke-width="0.9"/>
<text x="74.8" y="83.7" font-size="7" text-anchor="start" font-weight="bold">1 μg/ml</text>
<line x1="110.6" y1="29.5" x2="110.6" y2="61" stroke="#000" stroke-width="1"/>
<line x1="111" y1="63.5" x2="111" y2="86" stroke="#000" stroke-width="1"/>
<text x="113.9" y="46.3" font-size="6.6" text-anchor="start" font-weight="bold">IL-36R+/+ BMDC</text>
<text x="116" y="77" font-size="6.6" text-anchor="start" font-weight="bold">IL-36R-/- BMDC</text>
</svg>
</body></html>
